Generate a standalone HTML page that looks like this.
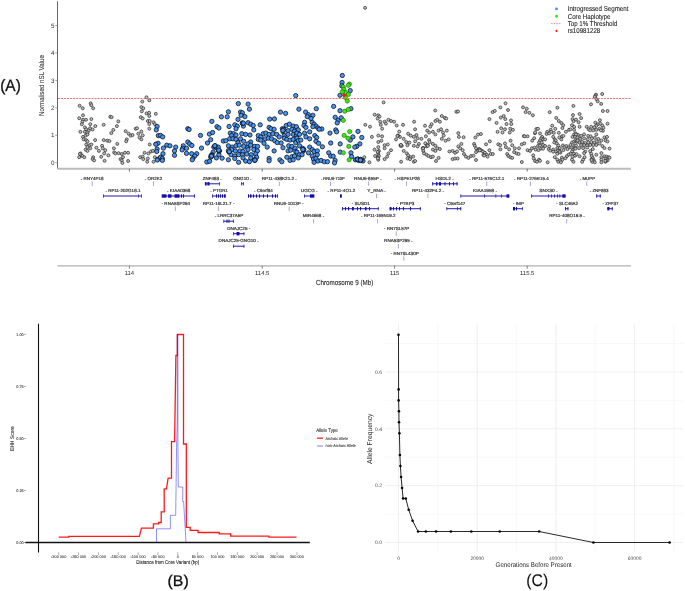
<!DOCTYPE html><html><head><meta charset="utf-8"><style>html,body{margin:0;padding:0;background:#fff;width:685px;height:591px;overflow:hidden}svg{display:block;will-change:transform}text{font-family:"Liberation Sans",sans-serif;text-rendering:geometricPrecision}</style></head><body>
<svg width="685" height="591" viewBox="0 0 685 591">
<rect width="685" height="591" fill="#fff"/>
<line x1="57.5" y1="1.3" x2="57.5" y2="168.8" stroke="#666" stroke-width="1.05"/>
<line x1="55.2" y1="162.70" x2="57.5" y2="162.70" stroke="#888" stroke-width="0.8"/>
<text x="54.40" y="164.87" font-size="6.30" text-anchor="end" fill="#333">0</text>
<line x1="55.2" y1="135.26" x2="57.5" y2="135.26" stroke="#888" stroke-width="0.8"/>
<text x="54.40" y="137.43" font-size="6.30" text-anchor="end" fill="#333">1</text>
<line x1="55.2" y1="107.82" x2="57.5" y2="107.82" stroke="#888" stroke-width="0.8"/>
<text x="54.40" y="109.99" font-size="6.30" text-anchor="end" fill="#333">2</text>
<line x1="55.2" y1="80.38" x2="57.5" y2="80.38" stroke="#888" stroke-width="0.8"/>
<text x="54.40" y="82.55" font-size="6.30" text-anchor="end" fill="#333">3</text>
<line x1="55.2" y1="52.94" x2="57.5" y2="52.94" stroke="#888" stroke-width="0.8"/>
<text x="54.40" y="55.11" font-size="6.30" text-anchor="end" fill="#333">4</text>
<line x1="55.2" y1="25.50" x2="57.5" y2="25.50" stroke="#888" stroke-width="0.8"/>
<text x="54.40" y="27.67" font-size="6.30" text-anchor="end" fill="#333">5</text>
<text x="0" y="0" transform="translate(41.80,85.50) rotate(-90)" font-size="7.13" text-anchor="middle" fill="#333" stroke="#333" stroke-width="0.1" dominant-baseline="central" textLength="61.00" lengthAdjust="spacingAndGlyphs">Normalised nSL Value</text>
<line x1="57.5" y1="168.8" x2="631" y2="168.8" stroke="#bdbdbd" stroke-width="2"/>
<line x1="129.4" y1="168.8" x2="129.4" y2="171.6" stroke="#555" stroke-width="0.8"/>
<line x1="262.2" y1="168.8" x2="262.2" y2="171.6" stroke="#555" stroke-width="0.8"/>
<line x1="394.6" y1="168.8" x2="394.6" y2="171.6" stroke="#555" stroke-width="0.8"/>
<line x1="527.2" y1="168.8" x2="527.2" y2="171.6" stroke="#555" stroke-width="0.8"/>
<g fill="#bcbcbc" stroke="#2a2a2a" stroke-width="0.7">
<circle cx="79.6" cy="105.8" r="1.5"/>
<circle cx="82.7" cy="108.3" r="1.5"/>
<circle cx="90.7" cy="103.3" r="1.5"/>
<circle cx="91.3" cy="105.2" r="1.5"/>
<circle cx="93.2" cy="108.3" r="1.5"/>
<circle cx="83.0" cy="115.3" r="1.5"/>
<circle cx="79.2" cy="118.2" r="1.5"/>
<circle cx="83.0" cy="119.8" r="1.5"/>
<circle cx="86.0" cy="119.8" r="1.5"/>
<circle cx="91.3" cy="119.1" r="1.5"/>
<circle cx="82.4" cy="121.7" r="1.5"/>
<circle cx="81.8" cy="124.2" r="1.5"/>
<circle cx="90.3" cy="124.2" r="1.5"/>
<circle cx="95.3" cy="126.1" r="1.5"/>
<circle cx="103.6" cy="124.8" r="1.5"/>
<circle cx="110.3" cy="116.8" r="1.5"/>
<circle cx="111.6" cy="117.2" r="1.5"/>
<circle cx="118.3" cy="121.4" r="1.5"/>
<circle cx="116.9" cy="126.1" r="1.5"/>
<circle cx="84.9" cy="127.4" r="1.5"/>
<circle cx="86.2" cy="129.3" r="1.5"/>
<circle cx="90.0" cy="128.3" r="1.5"/>
<circle cx="92.6" cy="129.5" r="1.5"/>
<circle cx="88.7" cy="130.6" r="1.5"/>
<circle cx="80.4" cy="131.8" r="1.5"/>
<circle cx="84.9" cy="131.8" r="1.5"/>
<circle cx="87.5" cy="132.5" r="1.5"/>
<circle cx="83.0" cy="136.9" r="1.5"/>
<circle cx="85.6" cy="135.6" r="1.5"/>
<circle cx="87.5" cy="134.4" r="1.5"/>
<circle cx="83.7" cy="139.4" r="1.5"/>
<circle cx="86.2" cy="140.1" r="1.5"/>
<circle cx="87.5" cy="141.3" r="1.5"/>
<circle cx="95.1" cy="140.1" r="1.5"/>
<circle cx="103.7" cy="140.1" r="1.5"/>
<circle cx="107.2" cy="140.7" r="1.5"/>
<circle cx="109.4" cy="141.0" r="1.5"/>
<circle cx="113.3" cy="129.9" r="1.5"/>
<circle cx="111.3" cy="133.1" r="1.5"/>
<circle cx="125.6" cy="131.2" r="1.5"/>
<circle cx="128.7" cy="133.7" r="1.5"/>
<circle cx="130.7" cy="135.6" r="1.5"/>
<circle cx="132.6" cy="135.0" r="1.5"/>
<circle cx="135.7" cy="128.7" r="1.5"/>
<circle cx="126.8" cy="139.4" r="1.5"/>
<circle cx="126.2" cy="141.3" r="1.5"/>
<circle cx="86.2" cy="144.5" r="1.5"/>
<circle cx="89.4" cy="145.2" r="1.5"/>
<circle cx="91.3" cy="144.5" r="1.5"/>
<circle cx="87.5" cy="147.1" r="1.5"/>
<circle cx="85.6" cy="149.6" r="1.5"/>
<circle cx="87.5" cy="150.9" r="1.5"/>
<circle cx="90.3" cy="148.3" r="1.5"/>
<circle cx="96.4" cy="147.7" r="1.5"/>
<circle cx="98.9" cy="150.9" r="1.5"/>
<circle cx="102.1" cy="145.8" r="1.5"/>
<circle cx="102.7" cy="148.3" r="1.5"/>
<circle cx="105.3" cy="150.2" r="1.5"/>
<circle cx="104.2" cy="153.4" r="1.5"/>
<circle cx="108.4" cy="155.3" r="1.5"/>
<circle cx="101.2" cy="156.8" r="1.5"/>
<circle cx="113.9" cy="148.3" r="1.5"/>
<circle cx="117.3" cy="143.9" r="1.5"/>
<circle cx="114.1" cy="152.4" r="1.5"/>
<circle cx="115.4" cy="153.4" r="1.5"/>
<circle cx="118.6" cy="153.2" r="1.5"/>
<circle cx="121.8" cy="154.0" r="1.5"/>
<circle cx="124.9" cy="152.8" r="1.5"/>
<circle cx="128.1" cy="152.8" r="1.5"/>
<circle cx="80.5" cy="153.4" r="1.5"/>
<circle cx="81.1" cy="155.3" r="1.5"/>
<circle cx="79.2" cy="157.2" r="1.5"/>
<circle cx="82.4" cy="156.0" r="1.5"/>
<circle cx="84.3" cy="157.2" r="1.5"/>
<circle cx="79.9" cy="154.0" r="1.5"/>
<circle cx="93.2" cy="157.2" r="1.5"/>
<circle cx="92.6" cy="159.1" r="1.5"/>
<circle cx="94.1" cy="160.4" r="1.5"/>
<circle cx="104.6" cy="160.8" r="1.5"/>
<circle cx="120.5" cy="159.1" r="1.5"/>
<circle cx="121.8" cy="160.4" r="1.5"/>
<circle cx="123.0" cy="157.2" r="1.5"/>
<circle cx="122.4" cy="162.9" r="1.5"/>
<circle cx="128.1" cy="161.0" r="1.5"/>
<circle cx="146.5" cy="97.3" r="1.5"/>
<circle cx="149.3" cy="100.3" r="1.5"/>
<circle cx="142.3" cy="101.6" r="1.5"/>
<circle cx="141.4" cy="107.1" r="1.5"/>
<circle cx="143.3" cy="108.3" r="1.5"/>
<circle cx="141.8" cy="111.3" r="1.5"/>
<circle cx="146.5" cy="113.4" r="1.5"/>
<circle cx="149.1" cy="112.8" r="1.5"/>
<circle cx="149.3" cy="116.0" r="1.5"/>
<circle cx="155.8" cy="113.8" r="1.5"/>
<circle cx="140.8" cy="117.2" r="1.5"/>
<circle cx="142.7" cy="118.5" r="1.5"/>
<circle cx="147.8" cy="121.0" r="1.5"/>
<circle cx="149.7" cy="121.0" r="1.5"/>
<circle cx="149.3" cy="124.0" r="1.5"/>
<circle cx="153.5" cy="122.3" r="1.5"/>
<circle cx="154.8" cy="124.2" r="1.5"/>
<circle cx="149.3" cy="128.7" r="1.5"/>
<circle cx="137.0" cy="128.3" r="1.5"/>
<circle cx="141.4" cy="131.6" r="1.5"/>
<circle cx="138.3" cy="133.7" r="1.5"/>
<circle cx="142.7" cy="135.4" r="1.5"/>
<circle cx="139.5" cy="137.5" r="1.5"/>
<circle cx="141.4" cy="139.4" r="1.5"/>
<circle cx="149.7" cy="144.5" r="1.5"/>
<circle cx="155.4" cy="143.9" r="1.5"/>
<circle cx="144.6" cy="152.8" r="1.5"/>
<circle cx="148.4" cy="153.4" r="1.5"/>
<circle cx="151.0" cy="151.5" r="1.5"/>
<circle cx="152.9" cy="150.9" r="1.5"/>
<circle cx="140.2" cy="157.2" r="1.5"/>
<circle cx="142.7" cy="156.6" r="1.5"/>
<circle cx="143.3" cy="159.1" r="1.5"/>
<circle cx="147.2" cy="161.7" r="1.5"/>
<circle cx="147.8" cy="158.5" r="1.5"/>
<circle cx="153.5" cy="161.7" r="1.5"/>
<circle cx="154.8" cy="157.2" r="1.5"/>
<circle cx="365.3" cy="124.8" r="1.5"/>
<circle cx="370.0" cy="126.7" r="1.5"/>
<circle cx="371.9" cy="136.9" r="1.5"/>
<circle cx="374.7" cy="114.7" r="1.5"/>
<circle cx="369.4" cy="162.3" r="1.5"/>
<circle cx="364.3" cy="157.2" r="1.5"/>
<circle cx="374.5" cy="149.6" r="1.5"/>
<circle cx="375.1" cy="156.0" r="1.5"/>
<circle cx="383.6" cy="102.4" r="1.5"/>
<circle cx="435.2" cy="110.5" r="1.5"/>
<circle cx="456.4" cy="111.8" r="1.5"/>
<circle cx="378.3" cy="115.3" r="1.5"/>
<circle cx="379.5" cy="116.6" r="1.5"/>
<circle cx="377.6" cy="118.5" r="1.5"/>
<circle cx="380.2" cy="121.7" r="1.5"/>
<circle cx="380.8" cy="124.8" r="1.5"/>
<circle cx="382.1" cy="128.7" r="1.5"/>
<circle cx="384.6" cy="121.7" r="1.5"/>
<circle cx="385.9" cy="123.6" r="1.5"/>
<circle cx="388.4" cy="119.8" r="1.5"/>
<circle cx="391.0" cy="121.0" r="1.5"/>
<circle cx="394.1" cy="121.7" r="1.5"/>
<circle cx="396.7" cy="125.5" r="1.5"/>
<circle cx="403.0" cy="124.8" r="1.5"/>
<circle cx="414.1" cy="121.7" r="1.5"/>
<circle cx="425.0" cy="125.7" r="1.5"/>
<circle cx="431.6" cy="124.2" r="1.5"/>
<circle cx="430.3" cy="126.7" r="1.5"/>
<circle cx="435.4" cy="121.0" r="1.5"/>
<circle cx="437.3" cy="119.8" r="1.5"/>
<circle cx="439.9" cy="121.7" r="1.5"/>
<circle cx="441.8" cy="116.0" r="1.5"/>
<circle cx="444.9" cy="117.9" r="1.5"/>
<circle cx="446.2" cy="118.5" r="1.5"/>
<circle cx="415.1" cy="129.3" r="1.5"/>
<circle cx="399.2" cy="131.6" r="1.5"/>
<circle cx="427.2" cy="130.6" r="1.5"/>
<circle cx="429.1" cy="132.5" r="1.5"/>
<circle cx="425.9" cy="136.3" r="1.5"/>
<circle cx="432.9" cy="131.8" r="1.5"/>
<circle cx="435.4" cy="134.4" r="1.5"/>
<circle cx="438.6" cy="130.6" r="1.5"/>
<circle cx="441.1" cy="129.3" r="1.5"/>
<circle cx="443.0" cy="132.5" r="1.5"/>
<circle cx="446.8" cy="130.6" r="1.5"/>
<circle cx="443.7" cy="135.6" r="1.5"/>
<circle cx="441.8" cy="138.8" r="1.5"/>
<circle cx="445.6" cy="140.7" r="1.5"/>
<circle cx="448.7" cy="139.4" r="1.5"/>
<circle cx="378.3" cy="135.6" r="1.5"/>
<circle cx="382.1" cy="136.3" r="1.5"/>
<circle cx="398.0" cy="135.6" r="1.5"/>
<circle cx="399.9" cy="136.9" r="1.5"/>
<circle cx="396.0" cy="139.4" r="1.5"/>
<circle cx="408.1" cy="133.7" r="1.5"/>
<circle cx="410.7" cy="135.6" r="1.5"/>
<circle cx="413.8" cy="136.9" r="1.5"/>
<circle cx="416.4" cy="135.0" r="1.5"/>
<circle cx="417.6" cy="138.2" r="1.5"/>
<circle cx="421.4" cy="138.8" r="1.5"/>
<circle cx="415.1" cy="141.3" r="1.5"/>
<circle cx="403.7" cy="138.8" r="1.5"/>
<circle cx="406.2" cy="142.0" r="1.5"/>
<circle cx="409.4" cy="142.6" r="1.5"/>
<circle cx="407.5" cy="145.2" r="1.5"/>
<circle cx="400.5" cy="145.2" r="1.5"/>
<circle cx="401.8" cy="145.8" r="1.5"/>
<circle cx="378.3" cy="142.0" r="1.5"/>
<circle cx="381.4" cy="140.7" r="1.5"/>
<circle cx="384.6" cy="145.2" r="1.5"/>
<circle cx="387.8" cy="144.5" r="1.5"/>
<circle cx="391.0" cy="150.2" r="1.5"/>
<circle cx="418.9" cy="143.9" r="1.5"/>
<circle cx="425.3" cy="143.3" r="1.5"/>
<circle cx="429.1" cy="140.1" r="1.5"/>
<circle cx="429.7" cy="142.0" r="1.5"/>
<circle cx="427.8" cy="145.2" r="1.5"/>
<circle cx="426.5" cy="146.4" r="1.5"/>
<circle cx="432.9" cy="143.9" r="1.5"/>
<circle cx="435.4" cy="145.8" r="1.5"/>
<circle cx="437.3" cy="148.3" r="1.5"/>
<circle cx="439.9" cy="149.0" r="1.5"/>
<circle cx="432.9" cy="149.6" r="1.5"/>
<circle cx="435.4" cy="150.9" r="1.5"/>
<circle cx="413.8" cy="145.8" r="1.5"/>
<circle cx="417.6" cy="146.4" r="1.5"/>
<circle cx="403.7" cy="150.9" r="1.5"/>
<circle cx="406.8" cy="153.4" r="1.5"/>
<circle cx="408.1" cy="155.3" r="1.5"/>
<circle cx="410.7" cy="157.2" r="1.5"/>
<circle cx="413.2" cy="156.6" r="1.5"/>
<circle cx="407.5" cy="158.5" r="1.5"/>
<circle cx="410.0" cy="159.1" r="1.5"/>
<circle cx="401.1" cy="161.7" r="1.5"/>
<circle cx="413.8" cy="161.7" r="1.5"/>
<circle cx="415.1" cy="161.0" r="1.5"/>
<circle cx="422.7" cy="148.3" r="1.5"/>
<circle cx="423.3" cy="150.9" r="1.5"/>
<circle cx="424.0" cy="153.4" r="1.5"/>
<circle cx="426.5" cy="154.7" r="1.5"/>
<circle cx="428.4" cy="156.0" r="1.5"/>
<circle cx="431.0" cy="157.2" r="1.5"/>
<circle cx="432.9" cy="156.6" r="1.5"/>
<circle cx="436.0" cy="161.0" r="1.5"/>
<circle cx="438.6" cy="157.9" r="1.5"/>
<circle cx="449.4" cy="151.5" r="1.5"/>
<circle cx="452.6" cy="150.9" r="1.5"/>
<circle cx="455.1" cy="152.8" r="1.5"/>
<circle cx="452.6" cy="159.1" r="1.5"/>
<circle cx="455.1" cy="158.5" r="1.5"/>
<circle cx="384.6" cy="159.1" r="1.5"/>
<circle cx="387.2" cy="156.6" r="1.5"/>
<circle cx="388.4" cy="153.4" r="1.5"/>
<circle cx="378.3" cy="147.1" r="1.5"/>
<circle cx="378.9" cy="150.9" r="1.5"/>
<circle cx="378.3" cy="154.0" r="1.5"/>
<circle cx="378.9" cy="156.0" r="1.5"/>
<circle cx="378.3" cy="159.8" r="1.5"/>
<circle cx="384.6" cy="148.3" r="1.5"/>
<circle cx="458.0" cy="111.5" r="1.5"/>
<circle cx="505.5" cy="103.3" r="1.5"/>
<circle cx="500.4" cy="107.4" r="1.5"/>
<circle cx="508.0" cy="110.0" r="1.5"/>
<circle cx="523.0" cy="107.3" r="1.5"/>
<circle cx="526.8" cy="108.7" r="1.5"/>
<circle cx="525.6" cy="112.1" r="1.5"/>
<circle cx="529.4" cy="112.8" r="1.5"/>
<circle cx="532.9" cy="115.3" r="1.5"/>
<circle cx="492.6" cy="112.1" r="1.5"/>
<circle cx="494.8" cy="110.9" r="1.5"/>
<circle cx="489.4" cy="119.1" r="1.5"/>
<circle cx="500.8" cy="117.6" r="1.5"/>
<circle cx="503.7" cy="116.0" r="1.5"/>
<circle cx="505.3" cy="119.1" r="1.5"/>
<circle cx="511.0" cy="120.4" r="1.5"/>
<circle cx="511.3" cy="124.0" r="1.5"/>
<circle cx="506.5" cy="124.0" r="1.5"/>
<circle cx="496.6" cy="122.9" r="1.5"/>
<circle cx="501.2" cy="128.3" r="1.5"/>
<circle cx="505.0" cy="129.3" r="1.5"/>
<circle cx="502.5" cy="132.5" r="1.5"/>
<circle cx="497.6" cy="131.8" r="1.5"/>
<circle cx="510.3" cy="128.7" r="1.5"/>
<circle cx="512.9" cy="129.9" r="1.5"/>
<circle cx="509.7" cy="132.5" r="1.5"/>
<circle cx="536.4" cy="129.0" r="1.5"/>
<circle cx="458.3" cy="133.1" r="1.5"/>
<circle cx="458.9" cy="136.9" r="1.5"/>
<circle cx="463.6" cy="137.2" r="1.5"/>
<circle cx="475.4" cy="137.5" r="1.5"/>
<circle cx="478.0" cy="134.6" r="1.5"/>
<circle cx="480.9" cy="134.0" r="1.5"/>
<circle cx="527.5" cy="136.3" r="1.5"/>
<circle cx="534.2" cy="138.2" r="1.5"/>
<circle cx="532.2" cy="140.7" r="1.5"/>
<circle cx="489.8" cy="141.3" r="1.5"/>
<circle cx="486.0" cy="144.3" r="1.5"/>
<circle cx="510.6" cy="140.7" r="1.5"/>
<circle cx="461.4" cy="143.9" r="1.5"/>
<circle cx="458.3" cy="146.4" r="1.5"/>
<circle cx="460.2" cy="148.3" r="1.5"/>
<circle cx="462.7" cy="150.2" r="1.5"/>
<circle cx="457.0" cy="151.5" r="1.5"/>
<circle cx="457.6" cy="158.5" r="1.5"/>
<circle cx="474.1" cy="143.9" r="1.5"/>
<circle cx="474.8" cy="145.8" r="1.5"/>
<circle cx="476.0" cy="148.3" r="1.5"/>
<circle cx="477.3" cy="150.9" r="1.5"/>
<circle cx="479.2" cy="149.0" r="1.5"/>
<circle cx="481.1" cy="150.2" r="1.5"/>
<circle cx="483.0" cy="151.5" r="1.5"/>
<circle cx="484.9" cy="152.8" r="1.5"/>
<circle cx="486.8" cy="154.7" r="1.5"/>
<circle cx="487.5" cy="156.6" r="1.5"/>
<circle cx="489.4" cy="150.2" r="1.5"/>
<circle cx="490.7" cy="154.0" r="1.5"/>
<circle cx="492.8" cy="154.0" r="1.5"/>
<circle cx="476.0" cy="152.1" r="1.5"/>
<circle cx="464.0" cy="154.0" r="1.5"/>
<circle cx="465.9" cy="156.6" r="1.5"/>
<circle cx="468.4" cy="157.9" r="1.5"/>
<circle cx="471.0" cy="156.0" r="1.5"/>
<circle cx="473.5" cy="155.7" r="1.5"/>
<circle cx="476.0" cy="160.0" r="1.5"/>
<circle cx="498.3" cy="144.3" r="1.5"/>
<circle cx="500.2" cy="145.2" r="1.5"/>
<circle cx="500.4" cy="149.3" r="1.5"/>
<circle cx="505.0" cy="143.5" r="1.5"/>
<circle cx="505.9" cy="147.1" r="1.5"/>
<circle cx="509.1" cy="149.3" r="1.5"/>
<circle cx="512.2" cy="145.2" r="1.5"/>
<circle cx="514.8" cy="148.3" r="1.5"/>
<circle cx="514.1" cy="152.1" r="1.5"/>
<circle cx="516.7" cy="153.4" r="1.5"/>
<circle cx="518.6" cy="154.0" r="1.5"/>
<circle cx="519.0" cy="148.3" r="1.5"/>
<circle cx="521.8" cy="144.3" r="1.5"/>
<circle cx="524.3" cy="143.3" r="1.5"/>
<circle cx="507.2" cy="154.0" r="1.5"/>
<circle cx="508.4" cy="156.0" r="1.5"/>
<circle cx="510.3" cy="157.2" r="1.5"/>
<circle cx="512.2" cy="157.9" r="1.5"/>
<circle cx="521.8" cy="162.0" r="1.5"/>
<circle cx="527.5" cy="150.2" r="1.5"/>
<circle cx="530.0" cy="150.9" r="1.5"/>
<circle cx="531.9" cy="148.3" r="1.5"/>
<circle cx="534.5" cy="147.7" r="1.5"/>
<circle cx="535.7" cy="149.6" r="1.5"/>
<circle cx="533.2" cy="155.3" r="1.5"/>
<circle cx="533.8" cy="158.5" r="1.5"/>
<circle cx="535.1" cy="161.0" r="1.5"/>
<circle cx="537.0" cy="161.7" r="1.5"/>
<circle cx="549.7" cy="112.2" r="1.5"/>
<circle cx="556.3" cy="117.9" r="1.5"/>
<circle cx="558.8" cy="121.0" r="1.5"/>
<circle cx="561.4" cy="123.0" r="1.5"/>
<circle cx="563.2" cy="125.2" r="1.5"/>
<circle cx="562.4" cy="128.1" r="1.5"/>
<circle cx="573.0" cy="115.1" r="1.5"/>
<circle cx="572.5" cy="119.1" r="1.5"/>
<circle cx="573.5" cy="121.2" r="1.5"/>
<circle cx="572.0" cy="125.2" r="1.5"/>
<circle cx="574.1" cy="126.8" r="1.5"/>
<circle cx="569.0" cy="129.8" r="1.5"/>
<circle cx="570.5" cy="129.3" r="1.5"/>
<circle cx="565.9" cy="131.8" r="1.5"/>
<circle cx="574.1" cy="129.8" r="1.5"/>
<circle cx="538.0" cy="128.8" r="1.5"/>
<circle cx="540.0" cy="133.4" r="1.5"/>
<circle cx="552.2" cy="125.7" r="1.5"/>
<circle cx="555.3" cy="128.8" r="1.5"/>
<circle cx="550.7" cy="129.8" r="1.5"/>
<circle cx="547.2" cy="131.8" r="1.5"/>
<circle cx="546.6" cy="133.9" r="1.5"/>
<circle cx="549.2" cy="133.4" r="1.5"/>
<circle cx="551.2" cy="131.8" r="1.5"/>
<circle cx="553.8" cy="132.8" r="1.5"/>
<circle cx="558.8" cy="132.8" r="1.5"/>
<circle cx="561.9" cy="136.4" r="1.5"/>
<circle cx="563.4" cy="135.9" r="1.5"/>
<circle cx="559.3" cy="137.4" r="1.5"/>
<circle cx="561.4" cy="139.4" r="1.5"/>
<circle cx="574.1" cy="134.4" r="1.5"/>
<circle cx="572.5" cy="136.9" r="1.5"/>
<circle cx="575.1" cy="136.9" r="1.5"/>
<circle cx="542.1" cy="136.9" r="1.5"/>
<circle cx="541.1" cy="138.4" r="1.5"/>
<circle cx="540.0" cy="140.5" r="1.5"/>
<circle cx="543.1" cy="139.4" r="1.5"/>
<circle cx="545.1" cy="139.4" r="1.5"/>
<circle cx="539.0" cy="142.5" r="1.5"/>
<circle cx="541.6" cy="142.5" r="1.5"/>
<circle cx="538.0" cy="146.0" r="1.5"/>
<circle cx="540.0" cy="145.5" r="1.5"/>
<circle cx="543.1" cy="145.0" r="1.5"/>
<circle cx="545.1" cy="146.0" r="1.5"/>
<circle cx="541.1" cy="148.6" r="1.5"/>
<circle cx="538.5" cy="150.1" r="1.5"/>
<circle cx="543.1" cy="148.6" r="1.5"/>
<circle cx="549.2" cy="146.5" r="1.5"/>
<circle cx="548.7" cy="149.1" r="1.5"/>
<circle cx="550.2" cy="150.6" r="1.5"/>
<circle cx="553.2" cy="149.6" r="1.5"/>
<circle cx="553.2" cy="136.9" r="1.5"/>
<circle cx="554.8" cy="139.4" r="1.5"/>
<circle cx="555.8" cy="140.5" r="1.5"/>
<circle cx="554.3" cy="142.5" r="1.5"/>
<circle cx="556.8" cy="143.5" r="1.5"/>
<circle cx="558.3" cy="145.5" r="1.5"/>
<circle cx="557.3" cy="148.1" r="1.5"/>
<circle cx="558.8" cy="150.1" r="1.5"/>
<circle cx="557.8" cy="150.6" r="1.5"/>
<circle cx="559.8" cy="148.1" r="1.5"/>
<circle cx="555.8" cy="151.6" r="1.5"/>
<circle cx="557.3" cy="153.7" r="1.5"/>
<circle cx="553.2" cy="151.6" r="1.5"/>
<circle cx="562.9" cy="145.5" r="1.5"/>
<circle cx="564.4" cy="147.1" r="1.5"/>
<circle cx="566.4" cy="146.0" r="1.5"/>
<circle cx="568.5" cy="147.6" r="1.5"/>
<circle cx="567.5" cy="149.1" r="1.5"/>
<circle cx="570.5" cy="145.0" r="1.5"/>
<circle cx="572.0" cy="142.5" r="1.5"/>
<circle cx="574.1" cy="141.5" r="1.5"/>
<circle cx="575.6" cy="140.5" r="1.5"/>
<circle cx="571.5" cy="147.6" r="1.5"/>
<circle cx="573.0" cy="149.6" r="1.5"/>
<circle cx="574.6" cy="148.1" r="1.5"/>
<circle cx="563.4" cy="150.1" r="1.5"/>
<circle cx="572.0" cy="151.6" r="1.5"/>
<circle cx="570.5" cy="153.7" r="1.5"/>
<circle cx="568.5" cy="154.7" r="1.5"/>
<circle cx="566.9" cy="156.2" r="1.5"/>
<circle cx="565.4" cy="158.2" r="1.5"/>
<circle cx="574.1" cy="153.7" r="1.5"/>
<circle cx="575.1" cy="155.7" r="1.5"/>
<circle cx="572.5" cy="156.7" r="1.5"/>
<circle cx="572.0" cy="159.7" r="1.5"/>
<circle cx="573.5" cy="161.8" r="1.5"/>
<circle cx="554.8" cy="157.2" r="1.5"/>
<circle cx="557.3" cy="159.7" r="1.5"/>
<circle cx="558.3" cy="161.8" r="1.5"/>
<circle cx="560.4" cy="160.8" r="1.5"/>
<circle cx="561.9" cy="157.7" r="1.5"/>
<circle cx="562.4" cy="159.7" r="1.5"/>
<circle cx="560.9" cy="162.3" r="1.5"/>
<circle cx="539.0" cy="159.7" r="1.5"/>
<circle cx="540.0" cy="160.8" r="1.5"/>
<circle cx="547.7" cy="162.3" r="1.5"/>
<circle cx="575.6" cy="133.4" r="1.5"/>
<circle cx="574.6" cy="145.5" r="1.5"/>
<circle cx="602.9" cy="111.0" r="1.5"/>
<circle cx="607.5" cy="111.0" r="1.5"/>
<circle cx="579.6" cy="114.1" r="1.5"/>
<circle cx="581.1" cy="118.1" r="1.5"/>
<circle cx="578.6" cy="122.2" r="1.5"/>
<circle cx="576.0" cy="119.6" r="1.5"/>
<circle cx="579.6" cy="126.8" r="1.5"/>
<circle cx="607.5" cy="123.7" r="1.5"/>
<circle cx="599.9" cy="120.2" r="1.5"/>
<circle cx="595.3" cy="122.7" r="1.5"/>
<circle cx="597.8" cy="124.2" r="1.5"/>
<circle cx="600.4" cy="123.7" r="1.5"/>
<circle cx="602.4" cy="125.7" r="1.5"/>
<circle cx="603.4" cy="127.8" r="1.5"/>
<circle cx="602.9" cy="130.8" r="1.5"/>
<circle cx="596.3" cy="125.7" r="1.5"/>
<circle cx="594.3" cy="127.3" r="1.5"/>
<circle cx="596.3" cy="129.8" r="1.5"/>
<circle cx="599.4" cy="128.8" r="1.5"/>
<circle cx="600.9" cy="130.3" r="1.5"/>
<circle cx="586.7" cy="126.8" r="1.5"/>
<circle cx="591.2" cy="126.8" r="1.5"/>
<circle cx="588.7" cy="129.3" r="1.5"/>
<circle cx="590.2" cy="130.3" r="1.5"/>
<circle cx="593.3" cy="130.3" r="1.5"/>
<circle cx="596.3" cy="134.4" r="1.5"/>
<circle cx="588.2" cy="135.9" r="1.5"/>
<circle cx="590.7" cy="136.4" r="1.5"/>
<circle cx="584.1" cy="134.4" r="1.5"/>
<circle cx="581.1" cy="135.9" r="1.5"/>
<circle cx="578.0" cy="134.9" r="1.5"/>
<circle cx="576.0" cy="134.4" r="1.5"/>
<circle cx="577.5" cy="137.4" r="1.5"/>
<circle cx="580.1" cy="138.9" r="1.5"/>
<circle cx="584.1" cy="138.4" r="1.5"/>
<circle cx="587.7" cy="139.4" r="1.5"/>
<circle cx="591.8" cy="138.4" r="1.5"/>
<circle cx="594.8" cy="137.9" r="1.5"/>
<circle cx="598.4" cy="138.9" r="1.5"/>
<circle cx="601.4" cy="140.5" r="1.5"/>
<circle cx="604.4" cy="137.4" r="1.5"/>
<circle cx="607.0" cy="136.9" r="1.5"/>
<circle cx="605.5" cy="140.5" r="1.5"/>
<circle cx="607.5" cy="141.5" r="1.5"/>
<circle cx="577.0" cy="141.5" r="1.5"/>
<circle cx="579.6" cy="142.5" r="1.5"/>
<circle cx="582.1" cy="142.0" r="1.5"/>
<circle cx="585.2" cy="143.0" r="1.5"/>
<circle cx="588.2" cy="142.5" r="1.5"/>
<circle cx="591.2" cy="142.0" r="1.5"/>
<circle cx="594.3" cy="142.5" r="1.5"/>
<circle cx="596.8" cy="141.5" r="1.5"/>
<circle cx="599.4" cy="143.5" r="1.5"/>
<circle cx="581.1" cy="145.0" r="1.5"/>
<circle cx="584.1" cy="145.0" r="1.5"/>
<circle cx="587.2" cy="145.5" r="1.5"/>
<circle cx="590.2" cy="145.0" r="1.5"/>
<circle cx="593.3" cy="145.0" r="1.5"/>
<circle cx="596.3" cy="145.0" r="1.5"/>
<circle cx="602.4" cy="146.0" r="1.5"/>
<circle cx="604.4" cy="148.1" r="1.5"/>
<circle cx="609.5" cy="148.6" r="1.5"/>
<circle cx="576.0" cy="145.5" r="1.5"/>
<circle cx="575.5" cy="148.6" r="1.5"/>
<circle cx="579.1" cy="148.1" r="1.5"/>
<circle cx="583.1" cy="148.1" r="1.5"/>
<circle cx="587.2" cy="147.6" r="1.5"/>
<circle cx="592.8" cy="149.1" r="1.5"/>
<circle cx="585.2" cy="151.6" r="1.5"/>
<circle cx="584.1" cy="153.1" r="1.5"/>
<circle cx="576.5" cy="154.2" r="1.5"/>
<circle cx="579.6" cy="156.2" r="1.5"/>
<circle cx="584.6" cy="157.2" r="1.5"/>
<circle cx="590.2" cy="151.1" r="1.5"/>
<circle cx="591.2" cy="153.7" r="1.5"/>
<circle cx="591.8" cy="156.2" r="1.5"/>
<circle cx="592.8" cy="158.2" r="1.5"/>
<circle cx="593.8" cy="160.3" r="1.5"/>
<circle cx="596.3" cy="154.7" r="1.5"/>
<circle cx="601.4" cy="153.1" r="1.5"/>
<circle cx="604.4" cy="156.2" r="1.5"/>
<circle cx="606.5" cy="156.7" r="1.5"/>
<circle cx="608.5" cy="157.2" r="1.5"/>
<circle cx="609.5" cy="157.7" r="1.5"/>
<circle cx="605.5" cy="158.7" r="1.5"/>
<circle cx="607.5" cy="160.3" r="1.5"/>
<circle cx="601.4" cy="157.2" r="1.5"/>
<circle cx="601.4" cy="159.7" r="1.5"/>
<circle cx="601.4" cy="162.3" r="1.5"/>
<circle cx="605.5" cy="161.8" r="1.5"/>
<circle cx="592.3" cy="161.8" r="1.5"/>
<circle cx="583.1" cy="159.7" r="1.5"/>
<circle cx="582.1" cy="161.8" r="1.5"/>
<circle cx="594.8" cy="162.3" r="1.5"/>
<circle cx="596.0" cy="94.6" r="1.5"/>
<circle cx="595.4" cy="95.8" r="1.5"/>
<circle cx="594.8" cy="96.9" r="1.5"/>
<circle cx="602.2" cy="94.0" r="1.5"/>
<circle cx="596.6" cy="99.3" r="1.5"/>
<circle cx="597.7" cy="101.3" r="1.5"/>
<circle cx="601.2" cy="103.9" r="1.5"/>
<circle cx="591.0" cy="104.3" r="1.5"/>
<circle cx="573.4" cy="105.9" r="1.5"/>
<circle cx="557.4" cy="107.7" r="1.5"/>
<circle cx="365.1" cy="7.8" r="1.5"/>
<circle cx="423.2" cy="148.0" r="1.5"/>
<circle cx="423.0" cy="148.4" r="1.5"/>
<circle cx="427.3" cy="145.1" r="1.5"/>
<circle cx="427.7" cy="145.8" r="1.5"/>
<circle cx="398.0" cy="135.8" r="1.5"/>
<circle cx="397.4" cy="135.9" r="1.5"/>
<circle cx="400.7" cy="145.9" r="1.5"/>
<circle cx="401.0" cy="144.9" r="1.5"/>
<circle cx="378.1" cy="152.2" r="1.5"/>
<circle cx="377.6" cy="151.9" r="1.5"/>
<circle cx="378.0" cy="157.5" r="1.5"/>
<circle cx="377.9" cy="158.4" r="1.5"/>
<circle cx="479.5" cy="149.6" r="1.5"/>
<circle cx="479.8" cy="150.5" r="1.5"/>
<circle cx="483.4" cy="154.9" r="1.5"/>
<circle cx="484.1" cy="155.5" r="1.5"/>
<circle cx="560.4" cy="152.5" r="1.5"/>
<circle cx="559.7" cy="151.9" r="1.5"/>
<circle cx="576.8" cy="141.5" r="1.5"/>
<circle cx="577.6" cy="140.5" r="1.5"/>
<circle cx="591.5" cy="159.6" r="1.5"/>
<circle cx="591.6" cy="160.0" r="1.5"/>
<circle cx="606.1" cy="160.7" r="1.5"/>
<circle cx="605.3" cy="160.9" r="1.5"/>
<circle cx="523.8" cy="136.1" r="1.5"/>
<circle cx="524.6" cy="136.3" r="1.5"/>
<circle cx="535.0" cy="133.2" r="1.5"/>
<circle cx="535.2" cy="132.4" r="1.5"/>
</g>
<g fill="#4794f2" stroke="#050a12" stroke-width="0.75">
<circle cx="211.9" cy="121.4" r="2.15"/>
<circle cx="217.0" cy="126.7" r="2.15"/>
<circle cx="157.1" cy="126.5" r="2.15"/>
<circle cx="156.3" cy="129.9" r="2.15"/>
<circle cx="187.8" cy="128.7" r="2.15"/>
<circle cx="189.1" cy="129.5" r="2.15"/>
<circle cx="158.3" cy="135.6" r="2.15"/>
<circle cx="160.5" cy="135.4" r="2.15"/>
<circle cx="162.7" cy="136.9" r="2.15"/>
<circle cx="200.5" cy="135.4" r="2.15"/>
<circle cx="209.4" cy="134.1" r="2.15"/>
<circle cx="212.6" cy="132.5" r="2.15"/>
<circle cx="210.7" cy="139.7" r="2.15"/>
<circle cx="207.5" cy="143.0" r="2.15"/>
<circle cx="158.0" cy="143.3" r="2.15"/>
<circle cx="155.8" cy="144.3" r="2.15"/>
<circle cx="166.8" cy="145.2" r="2.15"/>
<circle cx="170.0" cy="145.8" r="2.15"/>
<circle cx="175.7" cy="147.1" r="2.15"/>
<circle cx="174.5" cy="150.9" r="2.15"/>
<circle cx="187.8" cy="142.0" r="2.15"/>
<circle cx="189.7" cy="143.9" r="2.15"/>
<circle cx="191.9" cy="145.5" r="2.15"/>
<circle cx="183.3" cy="145.8" r="2.15"/>
<circle cx="182.7" cy="148.3" r="2.15"/>
<circle cx="186.5" cy="148.3" r="2.15"/>
<circle cx="182.1" cy="149.9" r="2.15"/>
<circle cx="201.5" cy="148.1" r="2.15"/>
<circle cx="213.8" cy="147.1" r="2.15"/>
<circle cx="216.4" cy="147.7" r="2.15"/>
<circle cx="157.1" cy="149.0" r="2.15"/>
<circle cx="156.7" cy="151.5" r="2.15"/>
<circle cx="163.4" cy="148.1" r="2.15"/>
<circle cx="163.0" cy="153.7" r="2.15"/>
<circle cx="174.5" cy="155.3" r="2.15"/>
<circle cx="186.5" cy="153.4" r="2.15"/>
<circle cx="191.6" cy="153.7" r="2.15"/>
<circle cx="196.7" cy="153.7" r="2.15"/>
<circle cx="194.8" cy="156.0" r="2.15"/>
<circle cx="192.9" cy="158.5" r="2.15"/>
<circle cx="192.2" cy="159.8" r="2.15"/>
<circle cx="213.2" cy="152.1" r="2.15"/>
<circle cx="211.9" cy="154.7" r="2.15"/>
<circle cx="210.7" cy="157.2" r="2.15"/>
<circle cx="216.4" cy="157.9" r="2.15"/>
<circle cx="158.0" cy="159.1" r="2.15"/>
<circle cx="160.5" cy="157.2" r="2.15"/>
<circle cx="162.4" cy="158.5" r="2.15"/>
<circle cx="162.4" cy="160.4" r="2.15"/>
<circle cx="157.3" cy="160.0" r="2.15"/>
<circle cx="206.8" cy="162.0" r="2.15"/>
<circle cx="209.6" cy="161.3" r="2.15"/>
<circle cx="295.7" cy="95.6" r="2.15"/>
<circle cx="238.3" cy="103.6" r="2.15"/>
<circle cx="248.1" cy="104.1" r="2.15"/>
<circle cx="249.4" cy="109.2" r="2.15"/>
<circle cx="228.4" cy="111.8" r="2.15"/>
<circle cx="221.4" cy="116.8" r="2.15"/>
<circle cx="227.2" cy="116.8" r="2.15"/>
<circle cx="240.5" cy="112.1" r="2.15"/>
<circle cx="242.4" cy="112.8" r="2.15"/>
<circle cx="241.1" cy="115.3" r="2.15"/>
<circle cx="244.9" cy="116.6" r="2.15"/>
<circle cx="238.0" cy="119.4" r="2.15"/>
<circle cx="280.5" cy="112.1" r="2.15"/>
<circle cx="285.6" cy="113.4" r="2.15"/>
<circle cx="269.7" cy="119.1" r="2.15"/>
<circle cx="274.4" cy="118.9" r="2.15"/>
<circle cx="218.9" cy="128.0" r="2.15"/>
<circle cx="229.1" cy="126.5" r="2.15"/>
<circle cx="234.8" cy="124.8" r="2.15"/>
<circle cx="237.3" cy="126.1" r="2.15"/>
<circle cx="236.0" cy="128.7" r="2.15"/>
<circle cx="243.4" cy="126.1" r="2.15"/>
<circle cx="248.1" cy="122.7" r="2.15"/>
<circle cx="250.7" cy="124.2" r="2.15"/>
<circle cx="253.2" cy="125.5" r="2.15"/>
<circle cx="260.2" cy="124.8" r="2.15"/>
<circle cx="253.8" cy="129.9" r="2.15"/>
<circle cx="269.1" cy="127.4" r="2.15"/>
<circle cx="271.0" cy="128.7" r="2.15"/>
<circle cx="274.1" cy="129.3" r="2.15"/>
<circle cx="282.4" cy="128.7" r="2.15"/>
<circle cx="286.2" cy="125.5" r="2.15"/>
<circle cx="289.4" cy="124.2" r="2.15"/>
<circle cx="293.2" cy="126.1" r="2.15"/>
<circle cx="296.4" cy="126.7" r="2.15"/>
<circle cx="283.0" cy="131.8" r="2.15"/>
<circle cx="288.1" cy="130.6" r="2.15"/>
<circle cx="291.9" cy="129.3" r="2.15"/>
<circle cx="294.5" cy="131.2" r="2.15"/>
<circle cx="297.0" cy="133.1" r="2.15"/>
<circle cx="230.3" cy="133.1" r="2.15"/>
<circle cx="233.5" cy="133.7" r="2.15"/>
<circle cx="231.6" cy="135.6" r="2.15"/>
<circle cx="236.0" cy="135.0" r="2.15"/>
<circle cx="241.8" cy="133.7" r="2.15"/>
<circle cx="245.6" cy="134.4" r="2.15"/>
<circle cx="250.0" cy="135.0" r="2.15"/>
<circle cx="258.3" cy="135.6" r="2.15"/>
<circle cx="260.8" cy="136.9" r="2.15"/>
<circle cx="263.3" cy="133.7" r="2.15"/>
<circle cx="265.9" cy="133.1" r="2.15"/>
<circle cx="269.1" cy="134.4" r="2.15"/>
<circle cx="272.9" cy="133.7" r="2.15"/>
<circle cx="276.7" cy="134.4" r="2.15"/>
<circle cx="279.2" cy="136.9" r="2.15"/>
<circle cx="284.3" cy="135.6" r="2.15"/>
<circle cx="288.1" cy="134.4" r="2.15"/>
<circle cx="293.2" cy="134.4" r="2.15"/>
<circle cx="296.4" cy="135.6" r="2.15"/>
<circle cx="223.3" cy="141.0" r="2.15"/>
<circle cx="225.9" cy="140.7" r="2.15"/>
<circle cx="229.7" cy="138.8" r="2.15"/>
<circle cx="232.9" cy="138.8" r="2.15"/>
<circle cx="236.0" cy="139.4" r="2.15"/>
<circle cx="240.5" cy="138.8" r="2.15"/>
<circle cx="238.0" cy="142.6" r="2.15"/>
<circle cx="243.7" cy="141.3" r="2.15"/>
<circle cx="250.7" cy="142.0" r="2.15"/>
<circle cx="248.1" cy="143.9" r="2.15"/>
<circle cx="258.3" cy="139.4" r="2.15"/>
<circle cx="260.8" cy="140.1" r="2.15"/>
<circle cx="265.3" cy="138.8" r="2.15"/>
<circle cx="268.4" cy="138.2" r="2.15"/>
<circle cx="271.6" cy="138.8" r="2.15"/>
<circle cx="274.8" cy="140.7" r="2.15"/>
<circle cx="277.3" cy="142.6" r="2.15"/>
<circle cx="281.1" cy="143.0" r="2.15"/>
<circle cx="284.3" cy="138.2" r="2.15"/>
<circle cx="286.8" cy="139.4" r="2.15"/>
<circle cx="290.0" cy="140.1" r="2.15"/>
<circle cx="293.2" cy="139.4" r="2.15"/>
<circle cx="295.7" cy="142.6" r="2.15"/>
<circle cx="218.3" cy="147.1" r="2.15"/>
<circle cx="228.4" cy="145.8" r="2.15"/>
<circle cx="232.2" cy="147.1" r="2.15"/>
<circle cx="236.0" cy="145.8" r="2.15"/>
<circle cx="239.2" cy="145.2" r="2.15"/>
<circle cx="243.7" cy="146.4" r="2.15"/>
<circle cx="247.5" cy="147.7" r="2.15"/>
<circle cx="250.7" cy="145.2" r="2.15"/>
<circle cx="254.5" cy="146.4" r="2.15"/>
<circle cx="257.6" cy="146.4" r="2.15"/>
<circle cx="264.0" cy="143.3" r="2.15"/>
<circle cx="267.2" cy="147.1" r="2.15"/>
<circle cx="283.0" cy="147.7" r="2.15"/>
<circle cx="288.7" cy="145.8" r="2.15"/>
<circle cx="291.9" cy="146.4" r="2.15"/>
<circle cx="295.1" cy="148.3" r="2.15"/>
<circle cx="219.5" cy="150.9" r="2.15"/>
<circle cx="229.1" cy="152.1" r="2.15"/>
<circle cx="231.6" cy="149.6" r="2.15"/>
<circle cx="235.4" cy="150.9" r="2.15"/>
<circle cx="239.9" cy="150.9" r="2.15"/>
<circle cx="243.0" cy="151.5" r="2.15"/>
<circle cx="248.1" cy="149.6" r="2.15"/>
<circle cx="253.8" cy="149.6" r="2.15"/>
<circle cx="257.4" cy="150.9" r="2.15"/>
<circle cx="274.1" cy="150.9" r="2.15"/>
<circle cx="288.1" cy="150.9" r="2.15"/>
<circle cx="290.7" cy="150.2" r="2.15"/>
<circle cx="295.7" cy="151.5" r="2.15"/>
<circle cx="218.9" cy="154.7" r="2.15"/>
<circle cx="222.1" cy="158.2" r="2.15"/>
<circle cx="231.0" cy="154.7" r="2.15"/>
<circle cx="234.8" cy="156.0" r="2.15"/>
<circle cx="238.6" cy="154.7" r="2.15"/>
<circle cx="242.4" cy="154.7" r="2.15"/>
<circle cx="246.8" cy="154.0" r="2.15"/>
<circle cx="251.3" cy="154.7" r="2.15"/>
<circle cx="255.7" cy="154.0" r="2.15"/>
<circle cx="286.8" cy="157.2" r="2.15"/>
<circle cx="291.9" cy="156.6" r="2.15"/>
<circle cx="294.5" cy="156.0" r="2.15"/>
<circle cx="228.4" cy="159.8" r="2.15"/>
<circle cx="234.8" cy="158.5" r="2.15"/>
<circle cx="238.6" cy="162.3" r="2.15"/>
<circle cx="243.0" cy="157.9" r="2.15"/>
<circle cx="245.6" cy="161.0" r="2.15"/>
<circle cx="249.4" cy="161.7" r="2.15"/>
<circle cx="250.7" cy="157.9" r="2.15"/>
<circle cx="254.8" cy="160.4" r="2.15"/>
<circle cx="256.6" cy="157.2" r="2.15"/>
<circle cx="269.1" cy="158.5" r="2.15"/>
<circle cx="269.1" cy="160.8" r="2.15"/>
<circle cx="279.9" cy="159.8" r="2.15"/>
<circle cx="281.8" cy="161.7" r="2.15"/>
<circle cx="290.0" cy="160.4" r="2.15"/>
<circle cx="293.2" cy="159.8" r="2.15"/>
<circle cx="298.9" cy="109.2" r="2.15"/>
<circle cx="316.3" cy="108.7" r="2.15"/>
<circle cx="305.6" cy="112.1" r="2.15"/>
<circle cx="308.4" cy="114.7" r="2.15"/>
<circle cx="307.2" cy="116.6" r="2.15"/>
<circle cx="312.9" cy="115.3" r="2.15"/>
<circle cx="311.0" cy="118.5" r="2.15"/>
<circle cx="304.6" cy="122.3" r="2.15"/>
<circle cx="304.0" cy="125.5" r="2.15"/>
<circle cx="305.9" cy="127.4" r="2.15"/>
<circle cx="312.2" cy="122.3" r="2.15"/>
<circle cx="314.1" cy="124.2" r="2.15"/>
<circle cx="316.0" cy="126.1" r="2.15"/>
<circle cx="318.0" cy="128.0" r="2.15"/>
<circle cx="321.8" cy="129.0" r="2.15"/>
<circle cx="319.2" cy="129.3" r="2.15"/>
<circle cx="312.9" cy="126.7" r="2.15"/>
<circle cx="298.3" cy="129.9" r="2.15"/>
<circle cx="297.0" cy="133.1" r="2.15"/>
<circle cx="299.5" cy="134.4" r="2.15"/>
<circle cx="304.6" cy="133.1" r="2.15"/>
<circle cx="309.7" cy="131.8" r="2.15"/>
<circle cx="314.8" cy="135.6" r="2.15"/>
<circle cx="316.7" cy="137.5" r="2.15"/>
<circle cx="330.0" cy="133.1" r="2.15"/>
<circle cx="335.7" cy="129.9" r="2.15"/>
<circle cx="336.6" cy="131.8" r="2.15"/>
<circle cx="358.0" cy="131.4" r="2.15"/>
<circle cx="361.8" cy="137.5" r="2.15"/>
<circle cx="352.9" cy="136.9" r="2.15"/>
<circle cx="350.3" cy="140.1" r="2.15"/>
<circle cx="297.0" cy="138.2" r="2.15"/>
<circle cx="298.3" cy="140.7" r="2.15"/>
<circle cx="300.8" cy="140.1" r="2.15"/>
<circle cx="305.9" cy="136.9" r="2.15"/>
<circle cx="309.7" cy="138.8" r="2.15"/>
<circle cx="316.0" cy="141.3" r="2.15"/>
<circle cx="318.6" cy="143.3" r="2.15"/>
<circle cx="330.7" cy="143.0" r="2.15"/>
<circle cx="340.2" cy="143.9" r="2.15"/>
<circle cx="359.9" cy="143.9" r="2.15"/>
<circle cx="356.7" cy="146.4" r="2.15"/>
<circle cx="354.8" cy="147.1" r="2.15"/>
<circle cx="322.4" cy="146.8" r="2.15"/>
<circle cx="299.5" cy="145.8" r="2.15"/>
<circle cx="302.7" cy="148.3" r="2.15"/>
<circle cx="303.3" cy="150.9" r="2.15"/>
<circle cx="309.7" cy="147.1" r="2.15"/>
<circle cx="312.2" cy="149.6" r="2.15"/>
<circle cx="314.1" cy="151.5" r="2.15"/>
<circle cx="317.3" cy="150.9" r="2.15"/>
<circle cx="317.3" cy="154.7" r="2.15"/>
<circle cx="328.7" cy="152.8" r="2.15"/>
<circle cx="330.7" cy="156.0" r="2.15"/>
<circle cx="333.2" cy="156.2" r="2.15"/>
<circle cx="340.2" cy="152.1" r="2.15"/>
<circle cx="351.0" cy="152.8" r="2.15"/>
<circle cx="351.6" cy="156.6" r="2.15"/>
<circle cx="297.0" cy="152.1" r="2.15"/>
<circle cx="299.5" cy="154.7" r="2.15"/>
<circle cx="302.1" cy="154.7" r="2.15"/>
<circle cx="298.3" cy="157.9" r="2.15"/>
<circle cx="308.4" cy="152.8" r="2.15"/>
<circle cx="312.2" cy="156.0" r="2.15"/>
<circle cx="313.5" cy="159.1" r="2.15"/>
<circle cx="316.0" cy="158.5" r="2.15"/>
<circle cx="314.1" cy="162.3" r="2.15"/>
<circle cx="318.0" cy="161.0" r="2.15"/>
<circle cx="321.1" cy="160.4" r="2.15"/>
<circle cx="324.3" cy="161.7" r="2.15"/>
<circle cx="327.5" cy="161.7" r="2.15"/>
<circle cx="335.1" cy="160.4" r="2.15"/>
<circle cx="334.5" cy="162.9" r="2.15"/>
<circle cx="355.4" cy="159.8" r="2.15"/>
<circle cx="358.6" cy="160.4" r="2.15"/>
<circle cx="363.0" cy="161.0" r="2.15"/>
<circle cx="361.1" cy="159.8" r="2.15"/>
<circle cx="342.3" cy="75.5" r="2.15"/>
<circle cx="342.1" cy="82.5" r="2.15"/>
<circle cx="341.8" cy="85.8" r="2.15"/>
<circle cx="350.2" cy="90.6" r="2.15"/>
<circle cx="340.0" cy="95.3" r="2.15"/>
<circle cx="333.6" cy="106.4" r="2.15"/>
<circle cx="340.0" cy="110.7" r="2.15"/>
<circle cx="350.9" cy="108.7" r="2.15"/>
<circle cx="335.2" cy="117.3" r="2.15"/>
<circle cx="338.2" cy="120.3" r="2.15"/>
<circle cx="341.2" cy="117.8" r="2.15"/>
<circle cx="337.2" cy="122.9" r="2.15"/>
<circle cx="254.5" cy="159.8" r="2.15"/>
<circle cx="255.0" cy="159.7" r="2.15"/>
<circle cx="254.9" cy="160.2" r="2.15"/>
<circle cx="218.8" cy="150.9" r="2.15"/>
<circle cx="218.8" cy="150.8" r="2.15"/>
<circle cx="218.8" cy="150.2" r="2.15"/>
<circle cx="228.9" cy="151.5" r="2.15"/>
<circle cx="228.4" cy="150.6" r="2.15"/>
<circle cx="229.2" cy="151.7" r="2.15"/>
<circle cx="357.1" cy="159.4" r="2.15"/>
<circle cx="357.8" cy="158.9" r="2.15"/>
<circle cx="357.6" cy="159.3" r="2.15"/>
<circle cx="360.4" cy="159.4" r="2.15"/>
<circle cx="360.7" cy="160.5" r="2.15"/>
<circle cx="360.5" cy="160.1" r="2.15"/>
<circle cx="303.7" cy="149.8" r="2.15"/>
<circle cx="303.6" cy="149.3" r="2.15"/>
<circle cx="302.8" cy="149.5" r="2.15"/>
<circle cx="215.3" cy="145.9" r="2.15"/>
<circle cx="214.7" cy="146.1" r="2.15"/>
<circle cx="214.9" cy="145.7" r="2.15"/>
<circle cx="212.0" cy="155.8" r="2.15"/>
<circle cx="211.1" cy="155.6" r="2.15"/>
<circle cx="211.5" cy="156.1" r="2.15"/>
<circle cx="283.4" cy="129.7" r="2.15"/>
<circle cx="283.8" cy="129.4" r="2.15"/>
<circle cx="282.9" cy="130.4" r="2.15"/>
<circle cx="242.4" cy="123.0" r="2.15"/>
<circle cx="242.3" cy="123.3" r="2.15"/>
<circle cx="243.4" cy="123.1" r="2.15"/>
</g>
<g fill="#33f000" stroke="#1e3a10" stroke-width="0.5">
<circle cx="349.7" cy="131.6" r="2.15"/>
<circle cx="344.2" cy="135.4" r="2.15"/>
<circle cx="348.0" cy="138.2" r="2.15"/>
<circle cx="348.8" cy="146.4" r="2.15"/>
<circle cx="343.3" cy="152.8" r="2.15"/>
<circle cx="349.1" cy="159.8" r="2.15"/>
<circle cx="349.4" cy="84.1" r="2.15"/>
<circle cx="348.4" cy="85.3" r="2.15"/>
<circle cx="343.3" cy="86.8" r="2.15"/>
<circle cx="343.8" cy="89.4" r="2.15"/>
<circle cx="345.3" cy="92.4" r="2.15"/>
<circle cx="342.3" cy="91.9" r="2.15"/>
<circle cx="348.4" cy="94.4" r="2.15"/>
<circle cx="345.3" cy="97.5" r="2.15"/>
<circle cx="347.3" cy="101.0" r="2.15"/>
<circle cx="344.8" cy="111.2" r="2.15"/>
<circle cx="348.4" cy="109.5" r="2.15"/>
<circle cx="343.3" cy="120.3" r="2.15"/>
</g>
<path d="M344.2,92.9 L346.5,95.2 L344.2,97.5 L341.9,95.2Z" fill="#ff1500"/>
<line x1="58" y1="98.5" x2="631" y2="98.5" stroke="#ee6f78" stroke-width="1" stroke-dasharray="2 1.05"/>
<circle cx="556.5" cy="8.9" r="1.45" fill="#4794f2"/>
<circle cx="556.5" cy="16.2" r="1.45" fill="#33f000"/>
<line x1="551" y1="23.6" x2="561.5" y2="23.6" stroke="#ee6f78" stroke-width="0.8" stroke-dasharray="1.6 1"/>
<path d="M556.5,29.6 L557.8,30.9 L556.5,32.2 L555.2,30.9Z" fill="#ff1500"/>
<text x="567.70" y="11.35" font-size="7.10" text-anchor="start" fill="#222" stroke="#222" stroke-width="0.1" textLength="60.70" lengthAdjust="spacingAndGlyphs">Introgressed Segment</text>
<text x="567.70" y="18.68" font-size="7.10" text-anchor="start" fill="#222" stroke="#222" stroke-width="0.1" textLength="42.87" lengthAdjust="spacingAndGlyphs">Core Haplotype</text>
<text x="567.70" y="26.01" font-size="7.10" text-anchor="start" fill="#222" stroke="#222" stroke-width="0.1" textLength="49.62" lengthAdjust="spacingAndGlyphs">Top 1% Threshold</text>
<text x="567.70" y="33.34" font-size="7.10" text-anchor="start" fill="#222" stroke="#222" stroke-width="0.1" textLength="32.59" lengthAdjust="spacingAndGlyphs">rs10981228</text>
<line x1="57.5" y1="265.9" x2="631" y2="265.9" stroke="#b0b0b0" stroke-width="1.4"/>
<line x1="129.4" y1="265.8" x2="129.4" y2="268.8" stroke="#555" stroke-width="0.7"/>
<text x="129.40" y="275.24" font-size="5.90" text-anchor="middle" fill="#222">114</text>
<line x1="262.2" y1="265.8" x2="262.2" y2="268.8" stroke="#555" stroke-width="0.7"/>
<text x="262.20" y="275.24" font-size="5.90" text-anchor="middle" fill="#222">114.5</text>
<line x1="394.6" y1="265.8" x2="394.6" y2="268.8" stroke="#555" stroke-width="0.7"/>
<text x="394.60" y="275.24" font-size="5.90" text-anchor="middle" fill="#222">115</text>
<line x1="527.2" y1="265.8" x2="527.2" y2="268.8" stroke="#555" stroke-width="0.7"/>
<text x="527.20" y="275.24" font-size="5.90" text-anchor="middle" fill="#222">115.5</text>
<text x="344.60" y="284.52" font-size="7.31" text-anchor="middle" fill="#222" stroke="#222" stroke-width="0.1" textLength="57.30" lengthAdjust="spacingAndGlyphs">Chromosome 9 (Mb)</text>
<text transform="translate(80.80,179.80) scale(0.25)" x="0" y="0" font-size="17.6" fill="#333" stroke="#333" stroke-width="0.8" textLength="91.20" lengthAdjust="spacingAndGlyphs"><tspan dy="2.8">-</tspan><tspan dy="-2.8"> RNY4P18</tspan></text>
<line x1="92.2" y1="181.6" x2="92.2" y2="186.0" stroke="#6a6ad8" stroke-width="0.6"/>
<text transform="translate(144.80,179.80) scale(0.25)" x="0" y="0" font-size="17.6" fill="#333" stroke="#333" stroke-width="0.8" textLength="70.00" lengthAdjust="spacingAndGlyphs"><tspan dy="2.8">-</tspan><tspan dy="-2.8"> OR2K2</tspan></text>
<line x1="153.5" y1="181.6" x2="153.5" y2="186.0" stroke="#6a6ad8" stroke-width="0.6"/>
<text transform="translate(202.70,179.80) scale(0.25)" x="0" y="0" font-size="17.6" fill="#333" stroke="#333" stroke-width="0.8" textLength="76.00" lengthAdjust="spacingAndGlyphs">ZNF483 <tspan dy="2.8">-</tspan></text>
<line x1="204.9" y1="183.8" x2="219.7" y2="183.8" stroke="#1410a8" stroke-width="0.95"/>
<rect x="204.9" y="182.1" width="1.70" height="3.4" fill="#1410a8"/>
<rect x="207.4" y="182.1" width="2.20" height="3.4" fill="#1410a8"/>
<rect x="219" y="182.1" width="0.70" height="3.4" fill="#1410a8"/>
<text transform="translate(233.30,179.80) scale(0.25)" x="0" y="0" font-size="17.6" fill="#333" stroke="#333" stroke-width="0.8" textLength="72.80" lengthAdjust="spacingAndGlyphs">GNG10 <tspan dy="2.8">-</tspan></text>
<line x1="241.2" y1="183.8" x2="243.7" y2="183.8" stroke="#1410a8" stroke-width="0.95"/>
<rect x="241.2" y="182.1" width="0.70" height="3.4" fill="#1410a8"/>
<rect x="243" y="182.1" width="0.70" height="3.4" fill="#1410a8"/>
<text transform="translate(261.80,179.80) scale(0.25)" x="0" y="0" font-size="17.6" fill="#333" stroke="#333" stroke-width="0.8" textLength="140.00" lengthAdjust="spacingAndGlyphs">RP11-438K21.2 <tspan dy="2.8">-</tspan></text>
<line x1="279.3" y1="181.6" x2="279.3" y2="186.0" stroke="#6a6ad8" stroke-width="0.6"/>
<text transform="translate(320.90,179.80) scale(0.25)" x="0" y="0" font-size="17.6" fill="#333" stroke="#333" stroke-width="0.8" textLength="95.20" lengthAdjust="spacingAndGlyphs"><tspan dy="2.8">-</tspan><tspan dy="-2.8"> RNU6-710P</tspan></text>
<line x1="330.5" y1="181.6" x2="330.5" y2="186.0" stroke="#6a6ad8" stroke-width="0.6"/>
<text transform="translate(354.10,179.80) scale(0.25)" x="0" y="0" font-size="17.6" fill="#333" stroke="#333" stroke-width="0.8" textLength="109.60" lengthAdjust="spacingAndGlyphs">RNU6-855P <tspan dy="2.8">-</tspan></text>
<line x1="368.4" y1="181.6" x2="368.4" y2="186.0" stroke="#6a6ad8" stroke-width="0.6"/>
<text transform="translate(394.60,179.80) scale(0.25)" x="0" y="0" font-size="17.6" fill="#333" stroke="#333" stroke-width="0.8" textLength="100.80" lengthAdjust="spacingAndGlyphs"><tspan dy="2.8">-</tspan><tspan dy="-2.8"> HSPE1P28</tspan></text>
<line x1="406.5" y1="181.6" x2="406.5" y2="186.0" stroke="#6a6ad8" stroke-width="0.6"/>
<text transform="translate(435.60,179.80) scale(0.25)" x="0" y="0" font-size="17.6" fill="#333" stroke="#333" stroke-width="0.8" textLength="72.40" lengthAdjust="spacingAndGlyphs">HSDL2 <tspan dy="2.8">-</tspan></text>
<line x1="432.3" y1="183.8" x2="457.5" y2="183.8" stroke="#1410a8" stroke-width="0.95"/>
<rect x="432.3" y="182.1" width="0.90" height="3.4" fill="#1410a8"/>
<rect x="436" y="182.1" width="1.50" height="3.4" fill="#1410a8"/>
<rect x="439" y="182.1" width="2.00" height="3.4" fill="#1410a8"/>
<rect x="444.5" y="182.1" width="1.00" height="3.4" fill="#1410a8"/>
<rect x="449" y="182.1" width="1.00" height="3.4" fill="#1410a8"/>
<rect x="453" y="182.1" width="1.00" height="3.4" fill="#1410a8"/>
<rect x="456.5" y="182.1" width="1.00" height="3.4" fill="#1410a8"/>
<text transform="translate(469.20,179.80) scale(0.25)" x="0" y="0" font-size="17.6" fill="#333" stroke="#333" stroke-width="0.8" textLength="140.40" lengthAdjust="spacingAndGlyphs"><tspan dy="2.8">-</tspan><tspan dy="-2.8"> RP11-576C12.1</tspan></text>
<line x1="486.7" y1="181.6" x2="486.7" y2="186.0" stroke="#6a6ad8" stroke-width="0.6"/>
<text transform="translate(514.10,179.80) scale(0.25)" x="0" y="0" font-size="17.6" fill="#333" stroke="#333" stroke-width="0.8" textLength="138.40" lengthAdjust="spacingAndGlyphs"><tspan dy="2.8">-</tspan><tspan dy="-2.8"> RP11-276E15.4</tspan></text>
<line x1="530.5" y1="181.6" x2="530.5" y2="186.0" stroke="#6a6ad8" stroke-width="0.6"/>
<text transform="translate(579.80,179.80) scale(0.25)" x="0" y="0" font-size="17.6" fill="#333" stroke="#333" stroke-width="0.8" textLength="61.20" lengthAdjust="spacingAndGlyphs"><tspan dy="2.8">-</tspan><tspan dy="-2.8"> MUPP</tspan></text>
<line x1="586.8" y1="181.6" x2="586.8" y2="186.0" stroke="#6a6ad8" stroke-width="0.6"/>
<text transform="translate(105.40,192.00) scale(0.25)" x="0" y="0" font-size="17.6" fill="#333" stroke="#333" stroke-width="0.8" textLength="140.00" lengthAdjust="spacingAndGlyphs"><tspan dy="2.8">-</tspan><tspan dy="-2.8"> RP11-202G18.1</tspan></text>
<line x1="103.2" y1="196.0" x2="141.7" y2="196.0" stroke="#1410a8" stroke-width="0.95"/>
<rect x="103.2" y="194.3" width="0.70" height="3.4" fill="#1410a8"/>
<rect x="138.2" y="194.3" width="0.60" height="3.4" fill="#1410a8"/>
<rect x="141" y="194.3" width="0.70" height="3.4" fill="#1410a8"/>
<text transform="translate(167.10,192.00) scale(0.25)" x="0" y="0" font-size="17.6" fill="#333" stroke="#333" stroke-width="0.8" textLength="92.80" lengthAdjust="spacingAndGlyphs"><tspan dy="2.8">-</tspan><tspan dy="-2.8"> KIAA0368</tspan></text>
<line x1="161.75" y1="196.0" x2="195" y2="196.0" stroke="#1410a8" stroke-width="0.95"/>
<rect x="161.75" y="194.3" width="4.75" height="3.4" fill="#1410a8"/>
<rect x="168" y="194.3" width="3.50" height="3.4" fill="#1410a8"/>
<rect x="174.5" y="194.3" width="5.00" height="3.4" fill="#1410a8"/>
<rect x="181" y="194.3" width="1.00" height="3.4" fill="#1410a8"/>
<rect x="183" y="194.3" width="1.00" height="3.4" fill="#1410a8"/>
<rect x="194.2" y="194.3" width="0.80" height="3.4" fill="#1410a8"/>
<text transform="translate(210.30,192.00) scale(0.25)" x="0" y="0" font-size="17.6" fill="#333" stroke="#333" stroke-width="0.8" textLength="70.00" lengthAdjust="spacingAndGlyphs"><tspan dy="2.8">-</tspan><tspan dy="-2.8"> PTGR1</tspan></text>
<line x1="212" y1="196.0" x2="225.7" y2="196.0" stroke="#1410a8" stroke-width="0.95"/>
<rect x="212" y="194.3" width="0.70" height="3.4" fill="#1410a8"/>
<rect x="216" y="194.3" width="1.00" height="3.4" fill="#1410a8"/>
<rect x="218" y="194.3" width="1.00" height="3.4" fill="#1410a8"/>
<rect x="220" y="194.3" width="1.00" height="3.4" fill="#1410a8"/>
<rect x="222" y="194.3" width="1.00" height="3.4" fill="#1410a8"/>
<rect x="224" y="194.3" width="1.70" height="3.4" fill="#1410a8"/>
<text transform="translate(254.10,192.00) scale(0.25)" x="0" y="0" font-size="17.6" fill="#333" stroke="#333" stroke-width="0.8" textLength="74.40" lengthAdjust="spacingAndGlyphs"><tspan dy="2.8">-</tspan><tspan dy="-2.8"> C9orf84</tspan></text>
<line x1="248" y1="196.0" x2="277.8" y2="196.0" stroke="#1410a8" stroke-width="0.95"/>
<rect x="248" y="194.3" width="1.00" height="3.4" fill="#1410a8"/>
<rect x="250" y="194.3" width="1.50" height="3.4" fill="#1410a8"/>
<rect x="253" y="194.3" width="1.00" height="3.4" fill="#1410a8"/>
<rect x="256" y="194.3" width="1.00" height="3.4" fill="#1410a8"/>
<rect x="259" y="194.3" width="1.00" height="3.4" fill="#1410a8"/>
<rect x="263" y="194.3" width="1.00" height="3.4" fill="#1410a8"/>
<rect x="267" y="194.3" width="1.00" height="3.4" fill="#1410a8"/>
<rect x="272" y="194.3" width="1.00" height="3.4" fill="#1410a8"/>
<rect x="275" y="194.3" width="1.00" height="3.4" fill="#1410a8"/>
<rect x="277" y="194.3" width="0.80" height="3.4" fill="#1410a8"/>
<text transform="translate(300.80,192.00) scale(0.25)" x="0" y="0" font-size="17.6" fill="#333" stroke="#333" stroke-width="0.8" textLength="67.20" lengthAdjust="spacingAndGlyphs">UGCG <tspan dy="2.8">-</tspan></text>
<line x1="304" y1="196.0" x2="314.3" y2="196.0" stroke="#1410a8" stroke-width="0.95"/>
<rect x="304" y="194.3" width="0.70" height="3.4" fill="#1410a8"/>
<rect x="310" y="194.3" width="4.30" height="3.4" fill="#1410a8"/>
<text transform="translate(327.60,192.00) scale(0.25)" x="0" y="0" font-size="17.6" fill="#333" stroke="#333" stroke-width="0.8" textLength="110.40" lengthAdjust="spacingAndGlyphs"><tspan dy="2.8">-</tspan><tspan dy="-2.8"> RP11-4O1.2</tspan></text>
<line x1="340" y1="196.0" x2="341.8" y2="196.0" stroke="#1410a8" stroke-width="0.95"/>
<rect x="340" y="194.3" width="1.80" height="3.4" fill="#1410a8"/>
<text transform="translate(367.30,192.00) scale(0.25)" x="0" y="0" font-size="17.6" fill="#333" stroke="#333" stroke-width="0.8" textLength="74.40" lengthAdjust="spacingAndGlyphs">Y_RNA <tspan dy="2.8">-</tspan></text>
<line x1="376.5" y1="193.8" x2="376.5" y2="198.2" stroke="#6a6ad8" stroke-width="0.6"/>
<text transform="translate(412.10,192.00) scale(0.25)" x="0" y="0" font-size="17.6" fill="#333" stroke="#333" stroke-width="0.8" textLength="127.20" lengthAdjust="spacingAndGlyphs">RP11-432F4.2 <tspan dy="2.8">-</tspan></text>
<line x1="427.9" y1="193.8" x2="427.9" y2="198.2" stroke="#6a6ad8" stroke-width="0.6"/>
<text transform="translate(473.00,192.00) scale(0.25)" x="0" y="0" font-size="17.6" fill="#333" stroke="#333" stroke-width="0.8" textLength="96.00" lengthAdjust="spacingAndGlyphs">KIAA1958 <tspan dy="2.8">-</tspan></text>
<line x1="460.5" y1="196.0" x2="509.3" y2="196.0" stroke="#1410a8" stroke-width="0.95"/>
<rect x="460.5" y="194.3" width="0.70" height="3.4" fill="#1410a8"/>
<rect x="484" y="194.3" width="0.70" height="3.4" fill="#1410a8"/>
<rect x="495.5" y="194.3" width="0.70" height="3.4" fill="#1410a8"/>
<rect x="501" y="194.3" width="0.70" height="3.4" fill="#1410a8"/>
<rect x="506.5" y="194.3" width="2.80" height="3.4" fill="#1410a8"/>
<text transform="translate(539.30,192.00) scale(0.25)" x="0" y="0" font-size="17.6" fill="#333" stroke="#333" stroke-width="0.8" textLength="72.80" lengthAdjust="spacingAndGlyphs">SNX30 <tspan dy="2.8">-</tspan></text>
<line x1="531.2" y1="196.0" x2="565.6" y2="196.0" stroke="#1410a8" stroke-width="0.95"/>
<rect x="531.2" y="194.3" width="0.70" height="3.4" fill="#1410a8"/>
<rect x="548" y="194.3" width="0.70" height="3.4" fill="#1410a8"/>
<rect x="551" y="194.3" width="0.70" height="3.4" fill="#1410a8"/>
<rect x="554" y="194.3" width="0.70" height="3.4" fill="#1410a8"/>
<rect x="557" y="194.3" width="0.70" height="3.4" fill="#1410a8"/>
<rect x="559.5" y="194.3" width="0.70" height="3.4" fill="#1410a8"/>
<rect x="562.3" y="194.3" width="3.30" height="3.4" fill="#1410a8"/>
<text transform="translate(589.70,192.00) scale(0.25)" x="0" y="0" font-size="17.6" fill="#333" stroke="#333" stroke-width="0.8" textLength="74.80" lengthAdjust="spacingAndGlyphs"><tspan dy="2.8">-</tspan><tspan dy="-2.8"> ZNF883</tspan></text>
<line x1="596.3" y1="196.0" x2="600.7" y2="196.0" stroke="#1410a8" stroke-width="0.95"/>
<rect x="596.3" y="194.3" width="0.90" height="3.4" fill="#1410a8"/>
<rect x="599.8" y="194.3" width="0.90" height="3.4" fill="#1410a8"/>
<text transform="translate(161.60,204.50) scale(0.25)" x="0" y="0" font-size="17.6" fill="#333" stroke="#333" stroke-width="0.8" textLength="114.00" lengthAdjust="spacingAndGlyphs"><tspan dy="2.8">-</tspan><tspan dy="-2.8"> RNA5SP294</tspan></text>
<line x1="175.4" y1="206.5" x2="175.4" y2="210.9" stroke="#6a6ad8" stroke-width="0.6"/>
<text transform="translate(202.70,204.50) scale(0.25)" x="0" y="0" font-size="17.6" fill="#333" stroke="#333" stroke-width="0.8" textLength="126.80" lengthAdjust="spacingAndGlyphs">RP11-16L21.7 <tspan dy="2.8">-</tspan></text>
<line x1="218.4" y1="206.5" x2="218.4" y2="210.9" stroke="#6a6ad8" stroke-width="0.6"/>
<text transform="translate(273.80,204.50) scale(0.25)" x="0" y="0" font-size="17.6" fill="#333" stroke="#333" stroke-width="0.8" textLength="118.40" lengthAdjust="spacingAndGlyphs">RNU6-1013P <tspan dy="2.8">-</tspan></text>
<line x1="289.2" y1="206.5" x2="289.2" y2="210.9" stroke="#6a6ad8" stroke-width="0.6"/>
<text transform="translate(351.70,204.50) scale(0.25)" x="0" y="0" font-size="17.6" fill="#333" stroke="#333" stroke-width="0.8" textLength="72.80" lengthAdjust="spacingAndGlyphs"><tspan dy="2.8">-</tspan><tspan dy="-2.8"> SUSD1</tspan></text>
<line x1="342.1" y1="208.7" x2="378.6" y2="208.7" stroke="#1410a8" stroke-width="0.95"/>
<rect x="342.1" y="207.0" width="0.90" height="3.4" fill="#1410a8"/>
<rect x="345" y="207.0" width="1.00" height="3.4" fill="#1410a8"/>
<rect x="348" y="207.0" width="1.00" height="3.4" fill="#1410a8"/>
<rect x="352" y="207.0" width="1.80" height="3.4" fill="#1410a8"/>
<rect x="357" y="207.0" width="1.00" height="3.4" fill="#1410a8"/>
<rect x="360" y="207.0" width="1.00" height="3.4" fill="#1410a8"/>
<rect x="365" y="207.0" width="1.50" height="3.4" fill="#1410a8"/>
<rect x="369" y="207.0" width="1.00" height="3.4" fill="#1410a8"/>
<rect x="377.8" y="207.0" width="0.80" height="3.4" fill="#1410a8"/>
<text transform="translate(396.80,204.50) scale(0.25)" x="0" y="0" font-size="17.6" fill="#333" stroke="#333" stroke-width="0.8" textLength="70.00" lengthAdjust="spacingAndGlyphs"><tspan dy="2.8">-</tspan><tspan dy="-2.8"> PTBP3</tspan></text>
<line x1="389.6" y1="208.7" x2="420.7" y2="208.7" stroke="#1410a8" stroke-width="0.95"/>
<rect x="389.6" y="207.0" width="1.90" height="3.4" fill="#1410a8"/>
<rect x="393" y="207.0" width="1.00" height="3.4" fill="#1410a8"/>
<rect x="396" y="207.0" width="1.00" height="3.4" fill="#1410a8"/>
<rect x="399" y="207.0" width="1.00" height="3.4" fill="#1410a8"/>
<rect x="403" y="207.0" width="1.00" height="3.4" fill="#1410a8"/>
<rect x="410" y="207.0" width="1.00" height="3.4" fill="#1410a8"/>
<rect x="419.9" y="207.0" width="0.80" height="3.4" fill="#1410a8"/>
<text transform="translate(444.30,204.50) scale(0.25)" x="0" y="0" font-size="17.6" fill="#333" stroke="#333" stroke-width="0.8" textLength="83.20" lengthAdjust="spacingAndGlyphs"><tspan dy="2.8">-</tspan><tspan dy="-2.8"> C9orf147</tspan></text>
<line x1="446.5" y1="208.7" x2="461.2" y2="208.7" stroke="#1410a8" stroke-width="0.95"/>
<rect x="446.5" y="207.0" width="0.70" height="3.4" fill="#1410a8"/>
<rect x="457" y="207.0" width="0.70" height="3.4" fill="#1410a8"/>
<rect x="460.3" y="207.0" width="0.90" height="3.4" fill="#1410a8"/>
<text transform="translate(513.00,204.50) scale(0.25)" x="0" y="0" font-size="17.6" fill="#333" stroke="#333" stroke-width="0.8" textLength="44.00" lengthAdjust="spacingAndGlyphs"><tspan dy="2.8">-</tspan><tspan dy="-2.8"> INIP</tspan></text>
<line x1="513" y1="208.7" x2="522.9" y2="208.7" stroke="#1410a8" stroke-width="0.95"/>
<rect x="513" y="207.0" width="2.00" height="3.4" fill="#1410a8"/>
<rect x="516" y="207.0" width="1.00" height="3.4" fill="#1410a8"/>
<rect x="522.2" y="207.0" width="0.70" height="3.4" fill="#1410a8"/>
<text transform="translate(556.20,204.50) scale(0.25)" x="0" y="0" font-size="17.6" fill="#333" stroke="#333" stroke-width="0.8" textLength="87.60" lengthAdjust="spacingAndGlyphs"><tspan dy="2.8">-</tspan><tspan dy="-2.8"> SLC46A2</tspan></text>
<line x1="565.1" y1="208.7" x2="568.4" y2="208.7" stroke="#1410a8" stroke-width="0.95"/>
<rect x="565.1" y="207.0" width="0.90" height="3.4" fill="#1410a8"/>
<rect x="567.5" y="207.0" width="0.90" height="3.4" fill="#1410a8"/>
<text transform="translate(602.40,204.50) scale(0.25)" x="0" y="0" font-size="17.6" fill="#333" stroke="#333" stroke-width="0.8" textLength="64.80" lengthAdjust="spacingAndGlyphs"><tspan dy="2.8">-</tspan><tspan dy="-2.8"> ZFP37</tspan></text>
<line x1="607.3" y1="208.7" x2="612.7" y2="208.7" stroke="#1410a8" stroke-width="0.95"/>
<rect x="607.3" y="207.0" width="2.20" height="3.4" fill="#1410a8"/>
<rect x="611.8" y="207.0" width="0.90" height="3.4" fill="#1410a8"/>
<text transform="translate(214.70,217.00) scale(0.25)" x="0" y="0" font-size="17.6" fill="#333" stroke="#333" stroke-width="0.8" textLength="114.00" lengthAdjust="spacingAndGlyphs"><tspan dy="2.8">-</tspan><tspan dy="-2.8"> LRRC37A5P</tspan></text>
<line x1="223.5" y1="221.2" x2="234" y2="221.2" stroke="#1410a8" stroke-width="0.95"/>
<rect x="223.5" y="219.5" width="0.70" height="3.4" fill="#1410a8"/>
<rect x="226.5" y="219.5" width="1.00" height="3.4" fill="#1410a8"/>
<rect x="228.5" y="219.5" width="1.00" height="3.4" fill="#1410a8"/>
<rect x="233.3" y="219.5" width="0.70" height="3.4" fill="#1410a8"/>
<text transform="translate(302.70,217.00) scale(0.25)" x="0" y="0" font-size="17.6" fill="#333" stroke="#333" stroke-width="0.8" textLength="86.00" lengthAdjust="spacingAndGlyphs">MIR4668 <tspan dy="2.8">-</tspan></text>
<line x1="313.5" y1="219.0" x2="313.5" y2="223.4" stroke="#6a6ad8" stroke-width="0.6"/>
<text transform="translate(361.10,217.00) scale(0.25)" x="0" y="0" font-size="17.6" fill="#333" stroke="#333" stroke-width="0.8" textLength="137.60" lengthAdjust="spacingAndGlyphs"><tspan dy="2.8">-</tspan><tspan dy="-2.8"> RP11-165N19.2</tspan></text>
<line x1="377.6" y1="219.0" x2="377.6" y2="223.4" stroke="#6a6ad8" stroke-width="0.6"/>
<text transform="translate(549.20,217.00) scale(0.25)" x="0" y="0" font-size="17.6" fill="#333" stroke="#333" stroke-width="0.8" textLength="142.80" lengthAdjust="spacingAndGlyphs">RP11-408O19.5 <tspan dy="2.8">-</tspan></text>
<line x1="566.7" y1="219.0" x2="566.7" y2="223.4" stroke="#6a6ad8" stroke-width="0.6"/>
<text transform="translate(227.20,229.50) scale(0.25)" x="0" y="0" font-size="17.6" fill="#333" stroke="#333" stroke-width="0.8" textLength="92.00" lengthAdjust="spacingAndGlyphs">DNAJC25 <tspan dy="2.8">-</tspan></text>
<line x1="233.3" y1="233.7" x2="244.3" y2="233.7" stroke="#1410a8" stroke-width="0.95"/>
<rect x="233.3" y="232.0" width="0.70" height="3.4" fill="#1410a8"/>
<rect x="236.5" y="232.0" width="3.00" height="3.4" fill="#1410a8"/>
<rect x="243.6" y="232.0" width="0.70" height="3.4" fill="#1410a8"/>
<text transform="translate(384.10,229.50) scale(0.25)" x="0" y="0" font-size="17.6" fill="#333" stroke="#333" stroke-width="0.8" textLength="100.80" lengthAdjust="spacingAndGlyphs"><tspan dy="2.8">-</tspan><tspan dy="-2.8"> RN7SL57P</tspan></text>
<line x1="396.2" y1="231.5" x2="396.2" y2="235.9" stroke="#6a6ad8" stroke-width="0.6"/>
<text transform="translate(218.60,242.20) scale(0.25)" x="0" y="0" font-size="17.6" fill="#333" stroke="#333" stroke-width="0.8" textLength="159.60" lengthAdjust="spacingAndGlyphs">DNAJC25-GNG10 <tspan dy="2.8">-</tspan></text>
<line x1="233.3" y1="246.2" x2="244.3" y2="246.2" stroke="#1410a8" stroke-width="0.95"/>
<rect x="233.3" y="244.5" width="0.70" height="3.4" fill="#1410a8"/>
<rect x="243.6" y="244.5" width="0.70" height="3.4" fill="#1410a8"/>
<text transform="translate(384.10,242.20) scale(0.25)" x="0" y="0" font-size="17.6" fill="#333" stroke="#333" stroke-width="0.8" textLength="114.00" lengthAdjust="spacingAndGlyphs">RNA5SP295 <tspan dy="2.8">-</tspan></text>
<line x1="398.4" y1="244.0" x2="398.4" y2="248.4" stroke="#6a6ad8" stroke-width="0.6"/>
<text transform="translate(390.70,254.70) scale(0.25)" x="0" y="0" font-size="17.6" fill="#333" stroke="#333" stroke-width="0.8" textLength="112.00" lengthAdjust="spacingAndGlyphs"><tspan dy="2.8">-</tspan><tspan dy="-2.8"> RN7SL430P</tspan></text>
<line x1="403.8" y1="256.4" x2="403.8" y2="260.8" stroke="#6a6ad8" stroke-width="0.6"/>
<text x="0.2" y="91.4" font-size="16.5" fill="#111" stroke="#111" stroke-width="0.3" textLength="20.6" lengthAdjust="spacingAndGlyphs">(A)</text>
<line x1="38.5" y1="323.7" x2="38.5" y2="552.6" stroke="#111" stroke-width="1.1"/>
<line x1="25.4" y1="542.5" x2="309.8" y2="542.5" stroke="#111" stroke-width="1.4"/>
<text x="23.70" y="335.71" font-size="3.80" text-anchor="end" fill="#222" stroke="#222" stroke-width="0.04">1.00</text>
<line x1="24.2" y1="334.40" x2="25.9" y2="334.40" stroke="#333" stroke-width="0.5"/>
<text x="23.70" y="387.74" font-size="3.80" text-anchor="end" fill="#222" stroke="#222" stroke-width="0.04">0.75</text>
<line x1="24.2" y1="386.43" x2="25.9" y2="386.43" stroke="#333" stroke-width="0.5"/>
<text x="23.70" y="439.76" font-size="3.80" text-anchor="end" fill="#222" stroke="#222" stroke-width="0.04">0.50</text>
<line x1="24.2" y1="438.45" x2="25.9" y2="438.45" stroke="#333" stroke-width="0.5"/>
<text x="23.70" y="491.79" font-size="3.80" text-anchor="end" fill="#222" stroke="#222" stroke-width="0.04">0.25</text>
<line x1="24.2" y1="490.48" x2="25.9" y2="490.48" stroke="#333" stroke-width="0.5"/>
<text x="23.70" y="543.81" font-size="3.80" text-anchor="end" fill="#222" stroke="#222" stroke-width="0.04">0.00</text>
<line x1="24.2" y1="542.50" x2="25.9" y2="542.50" stroke="#333" stroke-width="0.5"/>
<text x="58.70" y="557.85" font-size="3.90" text-anchor="middle" fill="#222" stroke="#222" stroke-width="0.04">-300 000</text>
<line x1="58.70" y1="552.2" x2="58.70" y2="555.0" stroke="#444" stroke-width="0.4"/>
<text x="78.55" y="557.85" font-size="3.90" text-anchor="middle" fill="#222" stroke="#222" stroke-width="0.04">-250 000</text>
<line x1="78.55" y1="552.2" x2="78.55" y2="555.0" stroke="#444" stroke-width="0.4"/>
<text x="98.40" y="557.85" font-size="3.90" text-anchor="middle" fill="#222" stroke="#222" stroke-width="0.04">-200 000</text>
<line x1="98.40" y1="552.2" x2="98.40" y2="555.0" stroke="#444" stroke-width="0.4"/>
<text x="118.25" y="557.85" font-size="3.90" text-anchor="middle" fill="#222" stroke="#222" stroke-width="0.04">-150 000</text>
<line x1="118.25" y1="552.2" x2="118.25" y2="555.0" stroke="#444" stroke-width="0.4"/>
<text x="138.10" y="557.85" font-size="3.90" text-anchor="middle" fill="#222" stroke="#222" stroke-width="0.04">-100 000</text>
<line x1="138.10" y1="552.2" x2="138.10" y2="555.0" stroke="#444" stroke-width="0.4"/>
<text x="157.95" y="557.85" font-size="3.90" text-anchor="middle" fill="#222" stroke="#222" stroke-width="0.04">-50 000</text>
<line x1="157.95" y1="552.2" x2="157.95" y2="555.0" stroke="#444" stroke-width="0.4"/>
<text x="177.80" y="557.85" font-size="3.90" text-anchor="middle" fill="#222" stroke="#222" stroke-width="0.04">0</text>
<line x1="177.80" y1="552.2" x2="177.80" y2="555.0" stroke="#444" stroke-width="0.4"/>
<text x="197.65" y="557.85" font-size="3.90" text-anchor="middle" fill="#222" stroke="#222" stroke-width="0.04">50 000</text>
<line x1="197.65" y1="552.2" x2="197.65" y2="555.0" stroke="#444" stroke-width="0.4"/>
<text x="217.50" y="557.85" font-size="3.90" text-anchor="middle" fill="#222" stroke="#222" stroke-width="0.04">100 000</text>
<line x1="217.50" y1="552.2" x2="217.50" y2="555.0" stroke="#444" stroke-width="0.4"/>
<text x="237.35" y="557.85" font-size="3.90" text-anchor="middle" fill="#222" stroke="#222" stroke-width="0.04">150 000</text>
<line x1="237.35" y1="552.2" x2="237.35" y2="555.0" stroke="#444" stroke-width="0.4"/>
<text x="257.20" y="557.85" font-size="3.90" text-anchor="middle" fill="#222" stroke="#222" stroke-width="0.04">200 000</text>
<line x1="257.20" y1="552.2" x2="257.20" y2="555.0" stroke="#444" stroke-width="0.4"/>
<text x="277.05" y="557.85" font-size="3.90" text-anchor="middle" fill="#222" stroke="#222" stroke-width="0.04">250 000</text>
<line x1="277.05" y1="552.2" x2="277.05" y2="555.0" stroke="#444" stroke-width="0.4"/>
<text x="296.90" y="557.85" font-size="3.90" text-anchor="middle" fill="#222" stroke="#222" stroke-width="0.04">300 000</text>
<line x1="296.90" y1="552.2" x2="296.90" y2="555.0" stroke="#444" stroke-width="0.4"/>
<text x="167.70" y="563.86" font-size="5.40" text-anchor="middle" fill="#111" stroke="#111" stroke-width="0.08" textLength="63.00" lengthAdjust="spacingAndGlyphs">Distance from Core Variant (bp)</text>
<text x="0" y="0" transform="translate(12.80,438.60) rotate(-90)" font-size="5.50" text-anchor="middle" fill="#111" stroke="#111" stroke-width="0.06" dominant-baseline="central" textLength="25.00" lengthAdjust="spacingAndGlyphs">EHH Score</text>
<text x="316.20" y="431.87" font-size="5.12" text-anchor="start" fill="#111" stroke="#111" stroke-width="0.06" textLength="21.60" lengthAdjust="spacingAndGlyphs">Allele Type</text>
<line x1="317.1" y1="438.2" x2="322.9" y2="438.2" stroke="#ff1a1a" stroke-width="1.3"/>
<text x="325.60" y="439.62" font-size="4.12" text-anchor="start" fill="#222" stroke="#222" stroke-width="0.05" textLength="22.40" lengthAdjust="spacingAndGlyphs">Archaic Allele</text>
<line x1="317.1" y1="446" x2="322.9" y2="446" stroke="#9a9aff" stroke-width="1.3"/>
<text x="325.60" y="447.44" font-size="4.18" text-anchor="start" fill="#222" stroke="#222" stroke-width="0.05" textLength="30.40" lengthAdjust="spacingAndGlyphs">non-Archaic Allele</text>
<path d="M58.8,537.1 H68.8 V536.3 H139.3 L141.5,528.1 H153.4 V523.8 H158.6 V522.5 H161.2 V511.9 H164.2 V488.9 H166.5 L168.1,478.1 H171.5 V441.6 H174.6 L175.9,355.5 H177.3 V334.5 H183.5 V444 H186.3 V527.4 H190.2 V530.4 H198 V532.5 H219.2 V533.9 H230.7 V536.2 H268.9 V537.2 H296.5" fill="none" stroke="#ff1a1a" stroke-width="1.3"/>
<path d="M156.5,542.5 V528.8 H170.4 V515.3 H175.7 L176.6,445 L177.3,420 V334.6 H177.9 V445 L178.3,487 H182.7 V501.5 H183.6 L186,542.5" fill="none" stroke="#1a1aff" stroke-opacity="0.5" stroke-width="0.95"/>
<text x="167.5" y="585.9" font-size="15.4" fill="#111" stroke="#111" stroke-width="0.3" textLength="21.2" lengthAdjust="spacingAndGlyphs">(B)</text>
<line x1="385" y1="514.07" x2="682.8" y2="514.07" stroke="#f4f4f4" stroke-width="0.6"/>
<line x1="385" y1="457.21" x2="682.8" y2="457.21" stroke="#f4f4f4" stroke-width="0.6"/>
<line x1="385" y1="400.35" x2="682.8" y2="400.35" stroke="#f4f4f4" stroke-width="0.6"/>
<line x1="385" y1="343.49" x2="682.8" y2="343.49" stroke="#f4f4f4" stroke-width="0.6"/>
<line x1="437.85" y1="324" x2="437.85" y2="552.4" stroke="#f4f4f4" stroke-width="0.6"/>
<line x1="516.55" y1="324" x2="516.55" y2="552.4" stroke="#f4f4f4" stroke-width="0.6"/>
<line x1="595.25" y1="324" x2="595.25" y2="552.4" stroke="#f4f4f4" stroke-width="0.6"/>
<line x1="673.95" y1="324" x2="673.95" y2="552.4" stroke="#f4f4f4" stroke-width="0.6"/>
<line x1="385" y1="542.50" x2="682.8" y2="542.50" stroke="#ebebeb" stroke-width="0.8"/>
<text x="382.20" y="544.26" font-size="5.10" text-anchor="end" fill="#4d4d4d">0.0</text>
<line x1="385" y1="485.64" x2="682.8" y2="485.64" stroke="#ebebeb" stroke-width="0.8"/>
<text x="382.20" y="487.40" font-size="5.10" text-anchor="end" fill="#4d4d4d">0.2</text>
<line x1="385" y1="428.78" x2="682.8" y2="428.78" stroke="#ebebeb" stroke-width="0.8"/>
<text x="382.20" y="430.54" font-size="5.10" text-anchor="end" fill="#4d4d4d">0.4</text>
<line x1="385" y1="371.92" x2="682.8" y2="371.92" stroke="#ebebeb" stroke-width="0.8"/>
<text x="382.20" y="373.68" font-size="5.10" text-anchor="end" fill="#4d4d4d">0.6</text>
<line x1="398.50" y1="324" x2="398.50" y2="552.4" stroke="#ebebeb" stroke-width="0.8"/>
<text x="398.50" y="559.89" font-size="4.90" text-anchor="middle" fill="#4d4d4d">0</text>
<line x1="477.20" y1="324" x2="477.20" y2="552.4" stroke="#ebebeb" stroke-width="0.8"/>
<text x="477.20" y="559.89" font-size="4.90" text-anchor="middle" fill="#4d4d4d">20000</text>
<line x1="555.90" y1="324" x2="555.90" y2="552.4" stroke="#ebebeb" stroke-width="0.8"/>
<text x="555.90" y="559.89" font-size="4.90" text-anchor="middle" fill="#4d4d4d">40000</text>
<line x1="634.60" y1="324" x2="634.60" y2="552.4" stroke="#ebebeb" stroke-width="0.8"/>
<text x="634.60" y="559.89" font-size="4.90" text-anchor="middle" fill="#4d4d4d">60000</text>
<text x="533.70" y="567.03" font-size="6.77" text-anchor="middle" fill="#222" textLength="76.20" lengthAdjust="spacingAndGlyphs">Generations Before Present</text>
<text x="0" y="0" transform="translate(370.90,438.70) rotate(-90)" font-size="7.04" text-anchor="middle" fill="#222" dominant-baseline="central" textLength="50.40" lengthAdjust="spacingAndGlyphs">Allele Frequency</text>
<polyline points="398.5,334.7 398.6,389.4 398.6,400.4 398.9,411.3 399.0,422.3 399.4,433.2 399.9,455 400.4,466 401.1,477 402.1,488 403.1,498.5 405.8,498.5 408.7,509.7 412.6,520.8 418.1,531.5 425.8,531.5 436.1,531.5 450.9,531.5 471.3,531.5 499.7,531.5 539.2,531.5 593.4,542.5 669.6,542.5" fill="none" stroke="#111" stroke-width="0.9"/>
<circle cx="398.5" cy="334.7" r="1.3" fill="#000"/>
<circle cx="398.6" cy="389.4" r="1.3" fill="#000"/>
<circle cx="398.6" cy="400.4" r="1.3" fill="#000"/>
<circle cx="398.9" cy="411.3" r="1.3" fill="#000"/>
<circle cx="399.0" cy="422.3" r="1.3" fill="#000"/>
<circle cx="399.4" cy="433.2" r="1.3" fill="#000"/>
<circle cx="399.9" cy="455" r="1.3" fill="#000"/>
<circle cx="400.4" cy="466" r="1.3" fill="#000"/>
<circle cx="401.1" cy="477" r="1.3" fill="#000"/>
<circle cx="402.1" cy="488" r="1.3" fill="#000"/>
<circle cx="403.1" cy="498.5" r="1.3" fill="#000"/>
<circle cx="405.8" cy="498.5" r="1.3" fill="#000"/>
<circle cx="408.7" cy="509.7" r="1.3" fill="#000"/>
<circle cx="412.6" cy="520.8" r="1.3" fill="#000"/>
<circle cx="418.1" cy="531.5" r="1.3" fill="#000"/>
<circle cx="425.8" cy="531.5" r="1.3" fill="#000"/>
<circle cx="436.1" cy="531.5" r="1.3" fill="#000"/>
<circle cx="450.9" cy="531.5" r="1.3" fill="#000"/>
<circle cx="471.3" cy="531.5" r="1.3" fill="#000"/>
<circle cx="499.7" cy="531.5" r="1.3" fill="#000"/>
<circle cx="539.2" cy="531.5" r="1.3" fill="#000"/>
<circle cx="593.4" cy="542.5" r="1.3" fill="#000"/>
<circle cx="669.6" cy="542.5" r="1.3" fill="#000"/>
<text x="526.2" y="586.3" font-size="17" fill="#111" stroke="#111" stroke-width="0.1" textLength="22" lengthAdjust="spacingAndGlyphs">(C)</text>
</svg></body></html>
